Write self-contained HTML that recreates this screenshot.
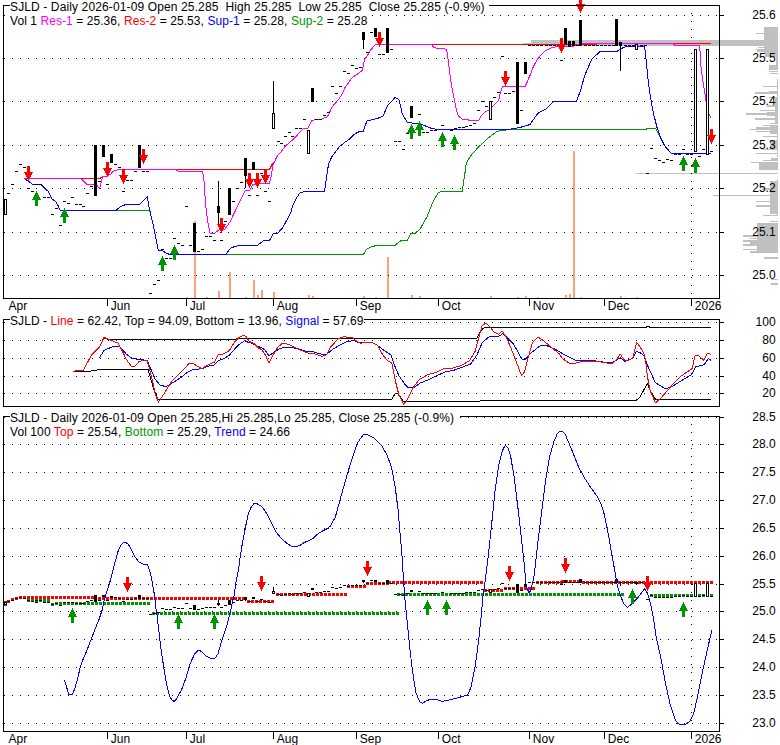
<!DOCTYPE html>
<html><head><meta charset="utf-8"><title>SJLD</title>
<style>html,body{margin:0;padding:0;background:#fff;width:780px;height:745px;overflow:hidden}svg{display:block}text{white-space:pre}</style>
</head><body><svg width="780" height="745" viewBox="0 0 780 745" font-family="Liberation Sans, sans-serif" shape-rendering="crispEdges"><path d="M764 27h14v13h-14zM756 33h22v1h-22zM720 40h58v6h-58zM764 46h14v7h-14zM758 47h20v1h-20zM756 49h22v1h-22zM757 50h21v2h-21zM765 53h13v4h-13zM776 57h2v5h-2zM776 62h2v3h-2zM769 65h9v5h-9zM769 71h9v1h-9zM770 73h8v1h-8zM777 79h1v21h-1zM763 86h15v1h-15zM769 91h9v1h-9zM755 92h23v2h-23zM769 97h9v1h-9zM775 98h3v26h-3zM767 105h11v2h-11zM760 110h18v1h-18zM767 112h11v4h-11zM746 113h32v2h-32zM755 118h23v2h-23zM770 123h8v1h-8zM770 125h8v9h-8zM763 125h15v1h-15zM756 127h22v2h-22zM750 129h28v1h-28zM756 131h22v1h-22zM777 133h1v24h-1zM763 136h15v1h-15zM770 140h8v9h-8zM762 149h16v1h-16zM756 153h22v1h-22zM771 158h7v2h-7zM763 160h15v1h-15zM751 162h27v1h-27zM759 163h19v7h-19zM720 173h58v1h-58zM777 179h1v37h-1zM770 181h8v33h-8zM762 188h16v2h-16zM720 195h58v1h-58zM756 201h22v1h-22zM756 205h22v2h-22zM763 215h15v1h-15zM770 221h8v1h-8zM757 223h21v29h-21zM743 235h35v2h-35zM750 238h28v1h-28zM743 240h35v2h-35zM750 242h28v2h-28zM743 244h35v2h-35zM743 249h35v1h-35zM750 251h28v2h-28zM764 257h14v2h-14zM771 279h7v1h-7zM771 283h7v2h-7z" fill="#c0c0c0"/>
<path d="M531 40h189v6h-189zM523 43h8v2h-8zM636 173h84v1h-84zM713 195h7v1h-7z" fill="#c0c0c0"/>
<path d="M573 151h2v147h-2zM387 257h2v41h-2zM194 221h2v77h-2zM229 272h2v26h-2zM218 291h2v7h-2zM253 280h2v18h-2zM257 295h2v3h-2zM261 290h2v8h-2zM273 292h2v6h-2zM308 295h2v3h-2zM312 296h2v2h-2zM363 296h2v2h-2zM375 297h2v1h-2zM411 295h2v3h-2zM419 296h2v2h-2zM186 297h2v1h-2zM206 297h2v1h-2zM245 297h2v1h-2zM490 296h2v2h-2zM517 297h2v1h-2zM525 296h2v2h-2zM537 297h2v1h-2zM565 295h2v3h-2zM569 294h2v4h-2zM580 297h2v1h-2zM620 296h2v2h-2zM636 297h2v1h-2z" fill="#ffa07a"/>
<path d="M4 15h1v1h-1zM372 15h1v1h-1zM380 15h1v1h-1zM388 15h1v1h-1zM396 15h1v1h-1zM404 15h1v1h-1zM412 15h1v1h-1zM420 15h1v1h-1zM428 15h1v1h-1zM436 15h1v1h-1zM444 15h1v1h-1zM452 15h1v1h-1zM460 15h1v1h-1zM468 15h1v1h-1zM476 15h1v1h-1zM484 15h1v1h-1zM492 15h1v1h-1zM500 15h1v1h-1zM508 15h1v1h-1zM516 15h1v1h-1zM524 15h1v1h-1zM532 15h1v1h-1zM540 15h1v1h-1zM548 15h1v1h-1zM556 15h1v1h-1zM564 15h1v1h-1zM572 15h1v1h-1zM580 15h1v1h-1zM588 15h1v1h-1zM596 15h1v1h-1zM604 15h1v1h-1zM612 15h1v1h-1zM620 15h1v1h-1zM628 15h1v1h-1zM636 15h1v1h-1zM644 15h1v1h-1zM652 15h1v1h-1zM660 15h1v1h-1zM668 15h1v1h-1zM676 15h1v1h-1zM684 15h1v1h-1zM692 15h1v1h-1zM700 15h1v1h-1zM708 15h1v1h-1zM716 15h1v1h-1z" fill="#000"/>
<path d="M4 58h1v1h-1zM12 58h1v1h-1zM20 58h1v1h-1zM28 58h1v1h-1zM36 58h1v1h-1zM44 58h1v1h-1zM52 58h1v1h-1zM60 58h1v1h-1zM68 58h1v1h-1zM76 58h1v1h-1zM84 58h1v1h-1zM92 58h1v1h-1zM100 58h1v1h-1zM108 58h1v1h-1zM116 58h1v1h-1zM124 58h1v1h-1zM132 58h1v1h-1zM140 58h1v1h-1zM148 58h1v1h-1zM156 58h1v1h-1zM164 58h1v1h-1zM172 58h1v1h-1zM180 58h1v1h-1zM188 58h1v1h-1zM196 58h1v1h-1zM204 58h1v1h-1zM212 58h1v1h-1zM220 58h1v1h-1zM228 58h1v1h-1zM236 58h1v1h-1zM244 58h1v1h-1zM252 58h1v1h-1zM260 58h1v1h-1zM268 58h1v1h-1zM276 58h1v1h-1zM284 58h1v1h-1zM292 58h1v1h-1zM300 58h1v1h-1zM308 58h1v1h-1zM316 58h1v1h-1zM324 58h1v1h-1zM332 58h1v1h-1zM340 58h1v1h-1zM348 58h1v1h-1zM356 58h1v1h-1zM364 58h1v1h-1zM372 58h1v1h-1zM380 58h1v1h-1zM388 58h1v1h-1zM396 58h1v1h-1zM404 58h1v1h-1zM412 58h1v1h-1zM420 58h1v1h-1zM428 58h1v1h-1zM436 58h1v1h-1zM444 58h1v1h-1zM452 58h1v1h-1zM460 58h1v1h-1zM468 58h1v1h-1zM476 58h1v1h-1zM484 58h1v1h-1zM492 58h1v1h-1zM500 58h1v1h-1zM508 58h1v1h-1zM516 58h1v1h-1zM524 58h1v1h-1zM532 58h1v1h-1zM540 58h1v1h-1zM548 58h1v1h-1zM556 58h1v1h-1zM564 58h1v1h-1zM572 58h1v1h-1zM580 58h1v1h-1zM588 58h1v1h-1zM596 58h1v1h-1zM604 58h1v1h-1zM612 58h1v1h-1zM620 58h1v1h-1zM628 58h1v1h-1zM636 58h1v1h-1zM644 58h1v1h-1zM652 58h1v1h-1zM660 58h1v1h-1zM668 58h1v1h-1zM676 58h1v1h-1zM684 58h1v1h-1zM692 58h1v1h-1zM700 58h1v1h-1zM708 58h1v1h-1zM716 58h1v1h-1z" fill="#000"/>
<path d="M4 101h1v1h-1zM12 101h1v1h-1zM20 101h1v1h-1zM28 101h1v1h-1zM36 101h1v1h-1zM44 101h1v1h-1zM52 101h1v1h-1zM60 101h1v1h-1zM68 101h1v1h-1zM76 101h1v1h-1zM84 101h1v1h-1zM92 101h1v1h-1zM100 101h1v1h-1zM108 101h1v1h-1zM116 101h1v1h-1zM124 101h1v1h-1zM132 101h1v1h-1zM140 101h1v1h-1zM148 101h1v1h-1zM156 101h1v1h-1zM164 101h1v1h-1zM172 101h1v1h-1zM180 101h1v1h-1zM188 101h1v1h-1zM196 101h1v1h-1zM204 101h1v1h-1zM212 101h1v1h-1zM220 101h1v1h-1zM228 101h1v1h-1zM236 101h1v1h-1zM244 101h1v1h-1zM252 101h1v1h-1zM260 101h1v1h-1zM268 101h1v1h-1zM276 101h1v1h-1zM284 101h1v1h-1zM292 101h1v1h-1zM300 101h1v1h-1zM308 101h1v1h-1zM316 101h1v1h-1zM324 101h1v1h-1zM332 101h1v1h-1zM340 101h1v1h-1zM348 101h1v1h-1zM356 101h1v1h-1zM364 101h1v1h-1zM372 101h1v1h-1zM380 101h1v1h-1zM388 101h1v1h-1zM396 101h1v1h-1zM404 101h1v1h-1zM412 101h1v1h-1zM420 101h1v1h-1zM428 101h1v1h-1zM436 101h1v1h-1zM444 101h1v1h-1zM452 101h1v1h-1zM460 101h1v1h-1zM468 101h1v1h-1zM476 101h1v1h-1zM484 101h1v1h-1zM492 101h1v1h-1zM500 101h1v1h-1zM508 101h1v1h-1zM516 101h1v1h-1zM524 101h1v1h-1zM532 101h1v1h-1zM540 101h1v1h-1zM548 101h1v1h-1zM556 101h1v1h-1zM564 101h1v1h-1zM572 101h1v1h-1zM580 101h1v1h-1zM588 101h1v1h-1zM596 101h1v1h-1zM604 101h1v1h-1zM612 101h1v1h-1zM620 101h1v1h-1zM628 101h1v1h-1zM636 101h1v1h-1zM644 101h1v1h-1zM652 101h1v1h-1zM660 101h1v1h-1zM668 101h1v1h-1zM676 101h1v1h-1zM684 101h1v1h-1zM692 101h1v1h-1zM700 101h1v1h-1zM708 101h1v1h-1zM716 101h1v1h-1z" fill="#000"/>
<path d="M4 145h1v1h-1zM12 145h1v1h-1zM20 145h1v1h-1zM28 145h1v1h-1zM36 145h1v1h-1zM44 145h1v1h-1zM52 145h1v1h-1zM60 145h1v1h-1zM68 145h1v1h-1zM76 145h1v1h-1zM84 145h1v1h-1zM92 145h1v1h-1zM100 145h1v1h-1zM108 145h1v1h-1zM116 145h1v1h-1zM124 145h1v1h-1zM132 145h1v1h-1zM140 145h1v1h-1zM148 145h1v1h-1zM156 145h1v1h-1zM164 145h1v1h-1zM172 145h1v1h-1zM180 145h1v1h-1zM188 145h1v1h-1zM196 145h1v1h-1zM204 145h1v1h-1zM212 145h1v1h-1zM220 145h1v1h-1zM228 145h1v1h-1zM236 145h1v1h-1zM244 145h1v1h-1zM252 145h1v1h-1zM260 145h1v1h-1zM268 145h1v1h-1zM276 145h1v1h-1zM284 145h1v1h-1zM292 145h1v1h-1zM300 145h1v1h-1zM308 145h1v1h-1zM316 145h1v1h-1zM324 145h1v1h-1zM332 145h1v1h-1zM340 145h1v1h-1zM348 145h1v1h-1zM356 145h1v1h-1zM364 145h1v1h-1zM372 145h1v1h-1zM380 145h1v1h-1zM388 145h1v1h-1zM396 145h1v1h-1zM404 145h1v1h-1zM412 145h1v1h-1zM420 145h1v1h-1zM428 145h1v1h-1zM436 145h1v1h-1zM444 145h1v1h-1zM452 145h1v1h-1zM460 145h1v1h-1zM468 145h1v1h-1zM476 145h1v1h-1zM484 145h1v1h-1zM492 145h1v1h-1zM500 145h1v1h-1zM508 145h1v1h-1zM516 145h1v1h-1zM524 145h1v1h-1zM532 145h1v1h-1zM540 145h1v1h-1zM548 145h1v1h-1zM556 145h1v1h-1zM564 145h1v1h-1zM572 145h1v1h-1zM580 145h1v1h-1zM588 145h1v1h-1zM596 145h1v1h-1zM604 145h1v1h-1zM612 145h1v1h-1zM620 145h1v1h-1zM628 145h1v1h-1zM636 145h1v1h-1zM644 145h1v1h-1zM652 145h1v1h-1zM660 145h1v1h-1zM668 145h1v1h-1zM676 145h1v1h-1zM684 145h1v1h-1zM692 145h1v1h-1zM700 145h1v1h-1zM708 145h1v1h-1zM716 145h1v1h-1z" fill="#000"/>
<path d="M4 188h1v1h-1zM12 188h1v1h-1zM20 188h1v1h-1zM28 188h1v1h-1zM36 188h1v1h-1zM44 188h1v1h-1zM52 188h1v1h-1zM60 188h1v1h-1zM68 188h1v1h-1zM76 188h1v1h-1zM84 188h1v1h-1zM92 188h1v1h-1zM100 188h1v1h-1zM108 188h1v1h-1zM116 188h1v1h-1zM124 188h1v1h-1zM132 188h1v1h-1zM140 188h1v1h-1zM148 188h1v1h-1zM156 188h1v1h-1zM164 188h1v1h-1zM172 188h1v1h-1zM180 188h1v1h-1zM188 188h1v1h-1zM196 188h1v1h-1zM204 188h1v1h-1zM212 188h1v1h-1zM220 188h1v1h-1zM228 188h1v1h-1zM236 188h1v1h-1zM244 188h1v1h-1zM252 188h1v1h-1zM260 188h1v1h-1zM268 188h1v1h-1zM276 188h1v1h-1zM284 188h1v1h-1zM292 188h1v1h-1zM300 188h1v1h-1zM308 188h1v1h-1zM316 188h1v1h-1zM324 188h1v1h-1zM332 188h1v1h-1zM340 188h1v1h-1zM348 188h1v1h-1zM356 188h1v1h-1zM364 188h1v1h-1zM372 188h1v1h-1zM380 188h1v1h-1zM388 188h1v1h-1zM396 188h1v1h-1zM404 188h1v1h-1zM412 188h1v1h-1zM420 188h1v1h-1zM428 188h1v1h-1zM436 188h1v1h-1zM444 188h1v1h-1zM452 188h1v1h-1zM460 188h1v1h-1zM468 188h1v1h-1zM476 188h1v1h-1zM484 188h1v1h-1zM492 188h1v1h-1zM500 188h1v1h-1zM508 188h1v1h-1zM516 188h1v1h-1zM524 188h1v1h-1zM532 188h1v1h-1zM540 188h1v1h-1zM548 188h1v1h-1zM556 188h1v1h-1zM564 188h1v1h-1zM572 188h1v1h-1zM580 188h1v1h-1zM588 188h1v1h-1zM596 188h1v1h-1zM604 188h1v1h-1zM612 188h1v1h-1zM620 188h1v1h-1zM628 188h1v1h-1zM636 188h1v1h-1zM644 188h1v1h-1zM652 188h1v1h-1zM660 188h1v1h-1zM668 188h1v1h-1zM676 188h1v1h-1zM684 188h1v1h-1zM692 188h1v1h-1zM700 188h1v1h-1zM708 188h1v1h-1zM716 188h1v1h-1z" fill="#000"/>
<path d="M4 232h1v1h-1zM12 232h1v1h-1zM20 232h1v1h-1zM28 232h1v1h-1zM36 232h1v1h-1zM44 232h1v1h-1zM52 232h1v1h-1zM60 232h1v1h-1zM68 232h1v1h-1zM76 232h1v1h-1zM84 232h1v1h-1zM92 232h1v1h-1zM100 232h1v1h-1zM108 232h1v1h-1zM116 232h1v1h-1zM124 232h1v1h-1zM132 232h1v1h-1zM140 232h1v1h-1zM148 232h1v1h-1zM156 232h1v1h-1zM164 232h1v1h-1zM172 232h1v1h-1zM180 232h1v1h-1zM188 232h1v1h-1zM196 232h1v1h-1zM204 232h1v1h-1zM212 232h1v1h-1zM220 232h1v1h-1zM228 232h1v1h-1zM236 232h1v1h-1zM244 232h1v1h-1zM252 232h1v1h-1zM260 232h1v1h-1zM268 232h1v1h-1zM276 232h1v1h-1zM284 232h1v1h-1zM292 232h1v1h-1zM300 232h1v1h-1zM308 232h1v1h-1zM316 232h1v1h-1zM324 232h1v1h-1zM332 232h1v1h-1zM340 232h1v1h-1zM348 232h1v1h-1zM356 232h1v1h-1zM364 232h1v1h-1zM372 232h1v1h-1zM380 232h1v1h-1zM388 232h1v1h-1zM396 232h1v1h-1zM404 232h1v1h-1zM412 232h1v1h-1zM420 232h1v1h-1zM428 232h1v1h-1zM436 232h1v1h-1zM444 232h1v1h-1zM452 232h1v1h-1zM460 232h1v1h-1zM468 232h1v1h-1zM476 232h1v1h-1zM484 232h1v1h-1zM492 232h1v1h-1zM500 232h1v1h-1zM508 232h1v1h-1zM516 232h1v1h-1zM524 232h1v1h-1zM532 232h1v1h-1zM540 232h1v1h-1zM548 232h1v1h-1zM556 232h1v1h-1zM564 232h1v1h-1zM572 232h1v1h-1zM580 232h1v1h-1zM588 232h1v1h-1zM596 232h1v1h-1zM604 232h1v1h-1zM612 232h1v1h-1zM620 232h1v1h-1zM628 232h1v1h-1zM636 232h1v1h-1zM644 232h1v1h-1zM652 232h1v1h-1zM660 232h1v1h-1zM668 232h1v1h-1zM676 232h1v1h-1zM684 232h1v1h-1zM692 232h1v1h-1zM700 232h1v1h-1zM708 232h1v1h-1zM716 232h1v1h-1z" fill="#000"/>
<path d="M4 275h1v1h-1zM12 275h1v1h-1zM20 275h1v1h-1zM28 275h1v1h-1zM36 275h1v1h-1zM44 275h1v1h-1zM52 275h1v1h-1zM60 275h1v1h-1zM68 275h1v1h-1zM76 275h1v1h-1zM84 275h1v1h-1zM92 275h1v1h-1zM100 275h1v1h-1zM108 275h1v1h-1zM116 275h1v1h-1zM124 275h1v1h-1zM132 275h1v1h-1zM140 275h1v1h-1zM148 275h1v1h-1zM156 275h1v1h-1zM164 275h1v1h-1zM172 275h1v1h-1zM180 275h1v1h-1zM188 275h1v1h-1zM196 275h1v1h-1zM204 275h1v1h-1zM212 275h1v1h-1zM220 275h1v1h-1zM228 275h1v1h-1zM236 275h1v1h-1zM244 275h1v1h-1zM252 275h1v1h-1zM260 275h1v1h-1zM268 275h1v1h-1zM276 275h1v1h-1zM284 275h1v1h-1zM292 275h1v1h-1zM300 275h1v1h-1zM308 275h1v1h-1zM316 275h1v1h-1zM324 275h1v1h-1zM332 275h1v1h-1zM340 275h1v1h-1zM348 275h1v1h-1zM356 275h1v1h-1zM364 275h1v1h-1zM372 275h1v1h-1zM380 275h1v1h-1zM388 275h1v1h-1zM396 275h1v1h-1zM404 275h1v1h-1zM412 275h1v1h-1zM420 275h1v1h-1zM428 275h1v1h-1zM436 275h1v1h-1zM444 275h1v1h-1zM452 275h1v1h-1zM460 275h1v1h-1zM468 275h1v1h-1zM476 275h1v1h-1zM484 275h1v1h-1zM492 275h1v1h-1zM500 275h1v1h-1zM508 275h1v1h-1zM516 275h1v1h-1zM524 275h1v1h-1zM532 275h1v1h-1zM540 275h1v1h-1zM548 275h1v1h-1zM556 275h1v1h-1zM564 275h1v1h-1zM572 275h1v1h-1zM580 275h1v1h-1zM588 275h1v1h-1zM596 275h1v1h-1zM604 275h1v1h-1zM612 275h1v1h-1zM620 275h1v1h-1zM628 275h1v1h-1zM636 275h1v1h-1zM644 275h1v1h-1zM652 275h1v1h-1zM660 275h1v1h-1zM668 275h1v1h-1zM676 275h1v1h-1zM684 275h1v1h-1zM692 275h1v1h-1zM700 275h1v1h-1zM708 275h1v1h-1zM716 275h1v1h-1z" fill="#000"/>
<path d="M691 13h1v1h-1zM691 21h1v1h-1zM691 29h1v1h-1zM691 37h1v1h-1zM691 45h1v1h-1zM691 53h1v1h-1zM691 61h1v1h-1zM691 69h1v1h-1zM691 77h1v1h-1zM691 85h1v1h-1zM691 93h1v1h-1zM691 101h1v1h-1zM691 109h1v1h-1zM691 117h1v1h-1zM691 125h1v1h-1zM691 133h1v1h-1zM691 141h1v1h-1zM691 149h1v1h-1zM691 157h1v1h-1zM691 165h1v1h-1zM691 173h1v1h-1zM691 181h1v1h-1zM691 189h1v1h-1zM691 197h1v1h-1zM691 205h1v1h-1zM691 213h1v1h-1zM691 221h1v1h-1zM691 229h1v1h-1zM691 237h1v1h-1zM691 245h1v1h-1zM691 253h1v1h-1zM691 261h1v1h-1zM691 269h1v1h-1zM691 277h1v1h-1zM691 285h1v1h-1zM691 293h1v1h-1z" fill="#000"/>
<rect x="3" y="5" width="1" height="294" fill="#000"/>
<rect x="719" y="5" width="1" height="294" fill="#000"/>
<rect x="3" y="298" width="717" height="1" fill="#000"/>
<rect x="3" y="5" width="7" height="1" fill="#000"/>
<rect x="489" y="5" width="231" height="1" fill="#000"/>
<rect x="719" y="15" width="5" height="1" fill="#000"/>
<rect x="719" y="58" width="5" height="1" fill="#000"/>
<rect x="719" y="101" width="5" height="1" fill="#000"/>
<rect x="719" y="145" width="5" height="1" fill="#000"/>
<rect x="719" y="188" width="5" height="1" fill="#000"/>
<rect x="719" y="232" width="5" height="1" fill="#000"/>
<rect x="719" y="275" width="5" height="1" fill="#000"/>
<polyline points="115.9,210.4 148.0,210.4 149.9,211.7 153.1,224.5 155.6,237.3 158.2,250.1 161.4,250.1 166.5,253.3 169.1,254.2 230.0,254.3 363.3,254.5 366.7,249.2 370.0,247.2 373.3,246.3 377.5,245.3 395.0,245.3 400.8,240.8 407.5,240.3 410.8,233.7 415.0,233.3 420.0,229.2 426.9,216.9 433.1,201.5 438.5,192.3 443.8,191.5 462.3,191.1 464.6,175.4 466.2,164.0 468.0,160.0 469.6,157.7 472.0,154.0 475.5,150.3 478.5,147.0 481.4,144.4 484.6,141.5 488.5,137.8 496.2,132.0 498.7,131.0 506.4,129.9 646.2,129.3 647.7,128.1 655.4,128.1 658.5,133.5 661.0,138.5 664.9,146.2 671.3,153.2 711.0,153.2" fill="none" stroke="#009400" stroke-width="1" stroke-linejoin="round"/>
<polyline points="24.4,178.4 25.4,179.3 28.6,181.3 31.0,183.0 32.6,184.4 41.0,184.4 43.5,187.0 45.9,189.4 48.3,191.4 49.9,195.0 51.8,198.8 55.6,201.4 57.6,204.6 60.2,210.4 115.9,210.4 119.7,207.2 122.5,205.7 126.2,204.4 139.6,204.4 147.3,196.5 149.2,207.8 153.1,224.5 155.6,237.3 158.2,250.1 161.4,250.1 166.5,253.3 169.1,254.2 226.2,254.3 230.3,248.3 235.4,246.3 239.5,245.3 257.4,245.3 263.1,241.0 269.7,240.1 273.3,233.5 277.4,233.5 282.6,227.8 287.7,218.6 290.8,212.4 292.8,205.3 296.4,198.0 300.3,192.4 306.0,191.5 324.6,191.3 325.3,186.4 326.5,178.0 327.8,168.5 329.1,162.7 331.7,156.9 339.4,146.7 345.8,141.5 347.0,141.2 354.7,134.0 359.9,131.3 360.0,131.3 363.2,131.3 367.0,120.8 372.8,119.7 378.0,118.2 383.1,115.9 387.6,105.6 395.3,97.3 399.1,99.9 402.3,114.0 407.4,122.3 416.4,123.6 422.8,124.9 431.8,128.5 436.9,129.4 460.0,129.4 506.4,129.9 519.2,127.6 526.9,125.6 530.1,124.4 537.2,114.1 540.0,111.9 546.2,108.8 553.1,101.6 576.5,101.2 580.8,89.6 584.6,75.8 589.2,65.0 592.3,58.8 600.0,51.5 616.9,51.5 620.0,49.3 623.8,47.3 627.7,46.5 644.6,46.5 646.2,60.4 648.5,83.5 650.8,98.8 653.3,112.8 657.2,128.2 661.0,138.5 664.9,146.2 671.3,153.2 711.0,153.2" fill="none" stroke="#0000ff" stroke-width="1" stroke-linejoin="round"/>
<polyline points="24.2,178.5 100.0,178.5 102.6,176.5 107.2,176.3 109.3,174.5 110.5,174.3 113.3,171.3 116.1,170.3 117.6,169.5 269.6,169.4 272.0,164.4 274.7,161.4" fill="none" stroke="#ff0000" stroke-width="1" stroke-linejoin="round"/>
<polyline points="431.7,44.5 524.0,44.5 673.0,43.5 711.0,43.5" fill="none" stroke="#ff0000" stroke-width="1" stroke-linejoin="round"/>
<polyline points="24.2,178.5 80.0,178.5 82.0,179.7 87.2,184.5 96.0,184.5 99.6,188.5 101.5,181.4 102.6,176.5 107.2,176.3 109.3,174.5 110.5,174.3 113.3,171.3 116.1,170.3 117.6,169.5 175.9,169.5 178.5,171.4 202.4,171.3 203.7,176.5 205.6,205.0 207.8,222.0 210.1,233.5 214.0,233.5 219.7,229.6 224.9,229.0 230.0,221.9 238.1,205.0 245.1,190.6 249.8,190.6 250.8,188.6 253.2,184.2 269.3,183.5 271.3,175.8 272.7,165.7 274.7,161.4 277.4,155.6 280.0,153.0 285.5,146.0 290.6,141.5 292.6,139.9 297.0,135.4 303.5,128.3 308.0,128.3 311.8,120.6 314.4,120.0 321.4,119.1 327.2,116.8 329.1,113.6 332.3,106.5 338.1,100.1 341.9,94.4 345.1,87.3 352.2,77.7 354.7,75.8 360.5,71.9 362.4,70.0 364.4,60.0 366.9,56.3 370.8,49.9 375.3,44.5 431.7,44.5 433.8,47.6 437.7,48.2 444.7,48.5 446.7,50.1 448.0,58.5 449.9,73.8 451.5,85.0 453.2,94.2 456.4,109.6 458.3,116.0 462.2,119.2 469.2,120.1 478.8,120.1 481.4,115.4 484.6,112.4 488.5,110.3 492.3,106.4 498.7,100.6 500.6,91.7 502.6,86.8 525.0,86.8 526.9,82.7 529.5,76.3 530.3,75.0 532.8,68.0 536.7,60.3 541.2,54.6 545.4,50.8 550.8,48.0 555.4,46.9 560.0,46.5 570.8,46.5 577.0,45.4 578.8,44.0 673.0,43.5 675.0,45.5 699.5,45.5 700.0,51.0 700.5,62.0 701.5,72.0 705.9,100.0 708.5,112.8 711.0,118.0" fill="none" stroke="#ff00ff" stroke-width="1" stroke-linejoin="round"/>
<path d="M7 193h3v1h-3zM11 184h3v1h-3zM15 171h3v1h-3zM19 164h3v1h-3zM23 167h3v1h-3zM27 188h3v1h-3zM31 191h3v1h-3zM35 197h3v1h-3zM43 197h3v1h-3zM47 197h3v1h-3zM51 214h3v1h-3zM55 208h3v1h-3zM59 225h3v1h-3zM63 201h3v1h-3zM67 203h3v1h-3zM71 197h3v1h-3zM75 204h3v1h-3zM79 204h3v1h-3zM82 206h3v1h-3zM86 193h3v1h-3zM90 186h3v1h-3zM98 181h3v1h-3zM106 184h3v1h-3zM114 164h3v1h-3zM118 167h3v1h-3zM122 191h3v1h-3zM126 180h3v1h-3zM130 180h3v1h-3zM134 171h3v1h-3zM142 171h3v1h-3zM146 171h3v1h-3zM185 206h3v1h-3zM173 238h3v1h-3zM177 243h3v1h-3zM181 245h3v1h-3zM189 245h3v1h-3zM197 251h3v1h-3zM201 249h3v1h-3zM161 249h3v1h-3zM165 258h3v1h-3zM169 258h3v1h-3zM205 236h3v1h-3zM209 236h3v1h-3zM213 240h3v1h-3zM220 240h3v1h-3zM224 221h3v1h-3zM277 141h3v1h-3zM240 182h3v1h-3zM236 188h3v1h-3zM260 173h3v1h-3zM264 191h3v1h-3zM248 195h3v1h-3zM256 195h3v1h-3zM268 201h3v1h-3zM232 201h3v1h-3zM343 71h3v1h-3zM347 73h3v1h-3zM331 86h3v1h-3zM339 86h3v1h-3zM335 93h3v1h-3zM327 112h3v1h-3zM323 115h3v1h-3zM303 119h3v1h-3zM315 119h3v1h-3zM319 119h3v1h-3zM295 128h3v1h-3zM299 128h3v1h-3zM288 132h3v1h-3zM284 136h3v1h-3zM291 136h3v1h-3zM280 143h3v1h-3zM220 240h3v1h-3zM370 32h3v1h-3zM366 52h3v1h-3zM378 54h3v1h-3zM382 54h3v1h-3zM390 49h3v1h-3zM351 65h3v1h-3zM355 68h3v1h-3zM359 67h3v1h-3zM501 56h3v1h-3zM497 92h3v1h-3zM504 93h3v1h-3zM508 93h3v1h-3zM512 91h3v1h-3zM418 114h3v1h-3zM441 125h3v1h-3zM406 133h3v1h-3zM422 132h3v1h-3zM426 132h3v1h-3zM430 130h3v1h-3zM434 130h3v1h-3zM394 141h3v1h-3zM398 141h3v1h-3zM402 149h3v1h-3zM450 130h3v1h-3zM454 128h3v1h-3zM458 127h3v1h-3zM462 127h3v1h-3zM465 126h3v1h-3zM469 125h3v1h-3zM473 123h3v1h-3zM477 110h3v1h-3zM481 101h3v1h-3zM485 106h3v1h-3zM493 97h3v1h-3zM520 110h3v1h-3zM560 60h3v1h-3zM528 45h3v1h-3zM532 45h3v1h-3zM536 45h3v1h-3zM540 45h3v1h-3zM545 45h3v1h-3zM549 45h3v1h-3zM553 45h3v1h-3zM557 45h3v1h-3zM561 45h3v1h-3zM576 45h3v1h-3zM584 45h3v1h-3zM588 45h3v1h-3zM592 45h3v1h-3zM596 45h3v1h-3zM600 45h3v1h-3zM604 45h3v1h-3zM608 45h3v1h-3zM612 45h3v1h-3zM624 45h3v1h-3zM628 45h3v1h-3zM632 45h3v1h-3zM640 45h3v1h-3zM644 45h3v1h-3zM650 148h3v1h-3zM682 149h3v1h-3zM702 149h3v1h-3zM710 151h3v1h-3zM674 154h3v1h-3zM678 154h3v1h-3zM686 154h3v1h-3zM690 154h3v1h-3zM698 156h3v1h-3zM654 158h3v1h-3zM658 160h3v1h-3zM662 162h3v1h-3zM666 159h3v1h-3zM670 160h3v1h-3zM646 173h3v1h-3zM149 293h3v1h-3zM153 284h3v1h-3zM157 280h3v1h-3zM35 184h3v1h-3zM39 184h3v1h-3z" fill="#000"/>
<path d="M94 145h3v51h-3zM102 145h3v12h-3zM110 154h3v9h-3zM138 145h3v23h-3zM193 223h3v29h-3zM244 158h3v18h-3zM245 176h1v12h-1zM252 162h3v8h-3zM228 188h3v27h-3zM311 88h3v14h-3zM362 32h3v8h-3zM363 40h1v9h-1zM374 28h3v9h-3zM386 28h3v25h-3zM524 62h3v12h-3zM410 106h3v12h-3zM564 28h3v17h-3zM568 41h3v6h-3zM572 41h3v5h-3zM579 20h3v26h-3zM615 19h3v27h-3zM619 42h3v4h-3zM620 46h1v25h-1zM516 62h3v62h-3zM217 206h3v7h-3zM218 181h1v25h-1zM218 213h1v13h-1z" fill="#000"/>
<rect x="4" y="199" width="3" height="16" fill="#fff"/>
<path d="M4 199h3v1h-3zM4 214h3v1h-3zM4 199h1v16h-1zM6 199h1v16h-1z" fill="#000"/>
<rect x="272" y="113" width="3" height="16" fill="#fff"/>
<path d="M272 113h3v1h-3zM272 128h3v1h-3zM272 113h1v16h-1zM274 113h1v16h-1zM273 81h1v32h-1z" fill="#000"/>
<rect x="307" y="130" width="3" height="24" fill="#fff"/>
<path d="M307 130h3v1h-3zM307 153h3v1h-3zM307 130h1v24h-1zM309 130h1v24h-1z" fill="#000"/>
<rect x="489" y="101" width="3" height="19" fill="#fff"/>
<path d="M489 101h3v1h-3zM489 119h3v1h-3zM489 101h1v19h-1zM491 101h1v19h-1z" fill="#000"/>
<rect x="635" y="44" width="3" height="6" fill="#fff"/>
<path d="M635 44h3v1h-3zM635 49h3v1h-3zM635 44h1v6h-1zM637 44h1v6h-1z" fill="#000"/>
<rect x="694" y="49" width="3" height="103" fill="#fff"/>
<path d="M694 49h3v1h-3zM694 151h3v1h-3zM694 49h1v103h-1zM696 49h1v103h-1z" fill="#000"/>
<rect x="706" y="49" width="3" height="106" fill="#fff"/>
<path d="M706 49h3v1h-3zM706 154h3v1h-3zM706 49h1v106h-1zM708 49h1v106h-1z" fill="#000"/>
<path d="M27 166h3v6h-3zM24 172h9v1h-9zM25 173h7v2h-7zM26 175h5v2h-5zM27 177h3v2h-3zM28 179h1v2h-1z" fill="#ff0000"/>
<path d="M36 191h1v2h-1zM35 193h3v2h-3zM34 195h5v2h-5zM33 197h7v2h-7zM32 199h9v1h-9zM35 200h3v6h-3z" fill="#009400"/>
<path d="M64 208h1v2h-1zM63 210h3v2h-3zM62 212h5v2h-5zM61 214h7v2h-7zM60 216h9v1h-9zM63 217h3v6h-3z" fill="#009400"/>
<path d="M106 162h3v6h-3zM103 168h9v1h-9zM104 169h7v2h-7zM105 171h5v2h-5zM106 173h3v2h-3zM107 175h1v2h-1z" fill="#ff0000"/>
<path d="M122 169h3v6h-3zM119 175h9v1h-9zM120 176h7v2h-7zM121 178h5v2h-5zM122 180h3v2h-3zM123 182h1v2h-1z" fill="#ff0000"/>
<path d="M142 149h3v6h-3zM139 155h9v1h-9zM140 156h7v2h-7zM141 158h5v2h-5zM142 160h3v2h-3zM143 162h1v2h-1z" fill="#ff0000"/>
<path d="M220 218h3v6h-3zM217 224h9v1h-9zM218 225h7v2h-7zM219 227h5v2h-5zM220 229h3v2h-3zM221 231h1v2h-1z" fill="#ff0000"/>
<path d="M174 245h1v2h-1zM173 247h3v2h-3zM172 249h5v2h-5zM171 251h7v2h-7zM170 253h9v1h-9zM173 254h3v6h-3z" fill="#009400"/>
<path d="M162 256h1v2h-1zM161 258h3v2h-3zM160 260h5v2h-5zM159 262h7v2h-7zM158 264h9v1h-9zM161 265h3v6h-3z" fill="#009400"/>
<path d="M248 173h3v6h-3zM245 179h9v1h-9zM246 180h7v2h-7zM247 182h5v2h-5zM248 184h3v2h-3zM249 186h1v2h-1z" fill="#ff0000"/>
<path d="M256 173h3v6h-3zM253 179h9v1h-9zM254 180h7v2h-7zM255 182h5v2h-5zM256 184h3v2h-3zM257 186h1v2h-1z" fill="#ff0000"/>
<path d="M264 169h3v6h-3zM261 175h9v1h-9zM262 176h7v2h-7zM263 178h5v2h-5zM264 180h3v2h-3zM265 182h1v2h-1z" fill="#ff0000"/>
<path d="M378 32h3v6h-3zM375 38h9v1h-9zM376 39h7v2h-7zM377 41h5v2h-5zM378 43h3v2h-3zM379 45h1v2h-1z" fill="#ff0000"/>
<path d="M504 71h3v6h-3zM501 77h9v1h-9zM502 78h7v2h-7zM503 80h5v2h-5zM504 82h3v2h-3zM505 84h1v2h-1z" fill="#ff0000"/>
<path d="M411 124h1v2h-1zM410 126h3v2h-3zM409 128h5v2h-5zM408 130h7v2h-7zM407 132h9v1h-9zM410 133h3v6h-3z" fill="#009400"/>
<path d="M419 121h1v2h-1zM418 123h3v2h-3zM417 125h5v2h-5zM416 127h7v2h-7zM415 129h9v1h-9zM418 130h3v6h-3z" fill="#009400"/>
<path d="M442 132h1v2h-1zM441 134h3v2h-3zM440 136h5v2h-5zM439 138h7v2h-7zM438 140h9v1h-9zM441 141h3v6h-3z" fill="#009400"/>
<path d="M454 135h1v2h-1zM453 137h3v2h-3zM452 139h5v2h-5zM451 141h7v2h-7zM450 143h9v1h-9zM453 144h3v6h-3z" fill="#009400"/>
<path d="M579 -2h3v6h-3zM576 4h9v1h-9zM577 5h7v2h-7zM578 7h5v2h-5zM579 9h3v2h-3zM580 11h1v2h-1z" fill="#ff0000"/>
<path d="M560 38h3v6h-3zM557 44h9v1h-9zM558 45h7v2h-7zM559 47h5v2h-5zM560 49h3v2h-3zM561 51h1v2h-1z" fill="#ff0000"/>
<path d="M710 129h3v6h-3zM707 135h9v1h-9zM708 136h7v2h-7zM709 138h5v2h-5zM710 140h3v2h-3zM711 142h1v2h-1z" fill="#ff0000"/>
<path d="M683 156h1v2h-1zM682 158h3v2h-3zM681 160h5v2h-5zM680 162h7v2h-7zM679 164h9v1h-9zM682 165h3v6h-3z" fill="#009400"/>
<path d="M695 158h1v2h-1zM694 160h3v2h-3zM693 162h5v2h-5zM692 164h7v2h-7zM691 166h9v1h-9zM694 167h3v6h-3z" fill="#009400"/>
<rect x="3" y="5" width="7" height="1" fill="#000"/>
<rect x="489" y="5" width="231" height="1" fill="#000"/>
<rect x="107" y="299" width="1" height="7" fill="#000"/>
<text x="110.8" y="310" fill="#000" font-size="12" text-anchor="start">Jun</text>
<rect x="186" y="299" width="1" height="7" fill="#000"/>
<text x="189.8" y="310" fill="#000" font-size="12" text-anchor="start">Jul</text>
<rect x="273" y="299" width="1" height="7" fill="#000"/>
<text x="276.8" y="310" fill="#000" font-size="12" text-anchor="start">Aug</text>
<rect x="356" y="299" width="1" height="7" fill="#000"/>
<text x="359.8" y="310" fill="#000" font-size="12" text-anchor="start">Sep</text>
<rect x="438" y="299" width="1" height="7" fill="#000"/>
<text x="441.8" y="310" fill="#000" font-size="12" text-anchor="start">Oct</text>
<rect x="529" y="299" width="1" height="7" fill="#000"/>
<text x="532.8" y="310" fill="#000" font-size="12" text-anchor="start">Nov</text>
<rect x="604" y="299" width="1" height="7" fill="#000"/>
<text x="607.8" y="310" fill="#000" font-size="12" text-anchor="start">Dec</text>
<rect x="691" y="299" width="1" height="7" fill="#000"/>
<text x="694.8" y="310" fill="#000" font-size="12" text-anchor="start">2026</text>
<text x="8.5" y="310" fill="#000" font-size="12" text-anchor="start">Apr</text>
<text x="10" y="10.8" font-size="12" xml:space="preserve" textLength="474.5" lengthAdjust="spacing"><tspan fill="#000">SJLD - Daily 2026-01-09 Open 25.285  High 25.285  Low 25.285  Close 25.285 (-0.9%)</tspan></text>
<text x="10" y="24.8" font-size="12" xml:space="preserve" textLength="357.5" lengthAdjust="spacing"><tspan fill="#000">Vol 1 </tspan><tspan fill="#f0f">Res-1</tspan><tspan fill="#000"> = 25.36, </tspan><tspan fill="#f00">Res-2</tspan><tspan fill="#000"> = 25.53, </tspan><tspan fill="#00f">Sup-1</tspan><tspan fill="#000"> = 25.28, </tspan><tspan fill="#009400">Sup-2</tspan><tspan fill="#000"> = 25.28</tspan></text>
<path d="M4 322h1v1h-1zM364 322h1v1h-1zM372 322h1v1h-1zM380 322h1v1h-1zM388 322h1v1h-1zM396 322h1v1h-1zM404 322h1v1h-1zM412 322h1v1h-1zM420 322h1v1h-1zM428 322h1v1h-1zM436 322h1v1h-1zM444 322h1v1h-1zM452 322h1v1h-1zM460 322h1v1h-1zM468 322h1v1h-1zM476 322h1v1h-1zM484 322h1v1h-1zM492 322h1v1h-1zM500 322h1v1h-1zM508 322h1v1h-1zM516 322h1v1h-1zM524 322h1v1h-1zM532 322h1v1h-1zM540 322h1v1h-1zM548 322h1v1h-1zM556 322h1v1h-1zM564 322h1v1h-1zM572 322h1v1h-1zM580 322h1v1h-1zM588 322h1v1h-1zM596 322h1v1h-1zM604 322h1v1h-1zM612 322h1v1h-1zM620 322h1v1h-1zM628 322h1v1h-1zM636 322h1v1h-1zM644 322h1v1h-1zM652 322h1v1h-1zM660 322h1v1h-1zM668 322h1v1h-1zM676 322h1v1h-1zM684 322h1v1h-1zM692 322h1v1h-1zM700 322h1v1h-1zM708 322h1v1h-1zM716 322h1v1h-1z" fill="#000"/>
<path d="M4 340h1v1h-1zM12 340h1v1h-1zM20 340h1v1h-1zM28 340h1v1h-1zM36 340h1v1h-1zM44 340h1v1h-1zM52 340h1v1h-1zM60 340h1v1h-1zM68 340h1v1h-1zM76 340h1v1h-1zM84 340h1v1h-1zM92 340h1v1h-1zM100 340h1v1h-1zM108 340h1v1h-1zM116 340h1v1h-1zM124 340h1v1h-1zM132 340h1v1h-1zM140 340h1v1h-1zM148 340h1v1h-1zM156 340h1v1h-1zM164 340h1v1h-1zM172 340h1v1h-1zM180 340h1v1h-1zM188 340h1v1h-1zM196 340h1v1h-1zM204 340h1v1h-1zM212 340h1v1h-1zM220 340h1v1h-1zM228 340h1v1h-1zM236 340h1v1h-1zM244 340h1v1h-1zM252 340h1v1h-1zM260 340h1v1h-1zM268 340h1v1h-1zM276 340h1v1h-1zM284 340h1v1h-1zM292 340h1v1h-1zM300 340h1v1h-1zM308 340h1v1h-1zM316 340h1v1h-1zM324 340h1v1h-1zM332 340h1v1h-1zM340 340h1v1h-1zM348 340h1v1h-1zM356 340h1v1h-1zM364 340h1v1h-1zM372 340h1v1h-1zM380 340h1v1h-1zM388 340h1v1h-1zM396 340h1v1h-1zM404 340h1v1h-1zM412 340h1v1h-1zM420 340h1v1h-1zM428 340h1v1h-1zM436 340h1v1h-1zM444 340h1v1h-1zM452 340h1v1h-1zM460 340h1v1h-1zM468 340h1v1h-1zM476 340h1v1h-1zM484 340h1v1h-1zM492 340h1v1h-1zM500 340h1v1h-1zM508 340h1v1h-1zM516 340h1v1h-1zM524 340h1v1h-1zM532 340h1v1h-1zM540 340h1v1h-1zM548 340h1v1h-1zM556 340h1v1h-1zM564 340h1v1h-1zM572 340h1v1h-1zM580 340h1v1h-1zM588 340h1v1h-1zM596 340h1v1h-1zM604 340h1v1h-1zM612 340h1v1h-1zM620 340h1v1h-1zM628 340h1v1h-1zM636 340h1v1h-1zM644 340h1v1h-1zM652 340h1v1h-1zM660 340h1v1h-1zM668 340h1v1h-1zM676 340h1v1h-1zM684 340h1v1h-1zM692 340h1v1h-1zM700 340h1v1h-1zM708 340h1v1h-1zM716 340h1v1h-1z" fill="#000"/>
<path d="M4 358h1v1h-1zM12 358h1v1h-1zM20 358h1v1h-1zM28 358h1v1h-1zM36 358h1v1h-1zM44 358h1v1h-1zM52 358h1v1h-1zM60 358h1v1h-1zM68 358h1v1h-1zM76 358h1v1h-1zM84 358h1v1h-1zM92 358h1v1h-1zM100 358h1v1h-1zM108 358h1v1h-1zM116 358h1v1h-1zM124 358h1v1h-1zM132 358h1v1h-1zM140 358h1v1h-1zM148 358h1v1h-1zM156 358h1v1h-1zM164 358h1v1h-1zM172 358h1v1h-1zM180 358h1v1h-1zM188 358h1v1h-1zM196 358h1v1h-1zM204 358h1v1h-1zM212 358h1v1h-1zM220 358h1v1h-1zM228 358h1v1h-1zM236 358h1v1h-1zM244 358h1v1h-1zM252 358h1v1h-1zM260 358h1v1h-1zM268 358h1v1h-1zM276 358h1v1h-1zM284 358h1v1h-1zM292 358h1v1h-1zM300 358h1v1h-1zM308 358h1v1h-1zM316 358h1v1h-1zM324 358h1v1h-1zM332 358h1v1h-1zM340 358h1v1h-1zM348 358h1v1h-1zM356 358h1v1h-1zM364 358h1v1h-1zM372 358h1v1h-1zM380 358h1v1h-1zM388 358h1v1h-1zM396 358h1v1h-1zM404 358h1v1h-1zM412 358h1v1h-1zM420 358h1v1h-1zM428 358h1v1h-1zM436 358h1v1h-1zM444 358h1v1h-1zM452 358h1v1h-1zM460 358h1v1h-1zM468 358h1v1h-1zM476 358h1v1h-1zM484 358h1v1h-1zM492 358h1v1h-1zM500 358h1v1h-1zM508 358h1v1h-1zM516 358h1v1h-1zM524 358h1v1h-1zM532 358h1v1h-1zM540 358h1v1h-1zM548 358h1v1h-1zM556 358h1v1h-1zM564 358h1v1h-1zM572 358h1v1h-1zM580 358h1v1h-1zM588 358h1v1h-1zM596 358h1v1h-1zM604 358h1v1h-1zM612 358h1v1h-1zM620 358h1v1h-1zM628 358h1v1h-1zM636 358h1v1h-1zM644 358h1v1h-1zM652 358h1v1h-1zM660 358h1v1h-1zM668 358h1v1h-1zM676 358h1v1h-1zM684 358h1v1h-1zM692 358h1v1h-1zM700 358h1v1h-1zM708 358h1v1h-1zM716 358h1v1h-1z" fill="#000"/>
<path d="M4 376h1v1h-1zM12 376h1v1h-1zM20 376h1v1h-1zM28 376h1v1h-1zM36 376h1v1h-1zM44 376h1v1h-1zM52 376h1v1h-1zM60 376h1v1h-1zM68 376h1v1h-1zM76 376h1v1h-1zM84 376h1v1h-1zM92 376h1v1h-1zM100 376h1v1h-1zM108 376h1v1h-1zM116 376h1v1h-1zM124 376h1v1h-1zM132 376h1v1h-1zM140 376h1v1h-1zM148 376h1v1h-1zM156 376h1v1h-1zM164 376h1v1h-1zM172 376h1v1h-1zM180 376h1v1h-1zM188 376h1v1h-1zM196 376h1v1h-1zM204 376h1v1h-1zM212 376h1v1h-1zM220 376h1v1h-1zM228 376h1v1h-1zM236 376h1v1h-1zM244 376h1v1h-1zM252 376h1v1h-1zM260 376h1v1h-1zM268 376h1v1h-1zM276 376h1v1h-1zM284 376h1v1h-1zM292 376h1v1h-1zM300 376h1v1h-1zM308 376h1v1h-1zM316 376h1v1h-1zM324 376h1v1h-1zM332 376h1v1h-1zM340 376h1v1h-1zM348 376h1v1h-1zM356 376h1v1h-1zM364 376h1v1h-1zM372 376h1v1h-1zM380 376h1v1h-1zM388 376h1v1h-1zM396 376h1v1h-1zM404 376h1v1h-1zM412 376h1v1h-1zM420 376h1v1h-1zM428 376h1v1h-1zM436 376h1v1h-1zM444 376h1v1h-1zM452 376h1v1h-1zM460 376h1v1h-1zM468 376h1v1h-1zM476 376h1v1h-1zM484 376h1v1h-1zM492 376h1v1h-1zM500 376h1v1h-1zM508 376h1v1h-1zM516 376h1v1h-1zM524 376h1v1h-1zM532 376h1v1h-1zM540 376h1v1h-1zM548 376h1v1h-1zM556 376h1v1h-1zM564 376h1v1h-1zM572 376h1v1h-1zM580 376h1v1h-1zM588 376h1v1h-1zM596 376h1v1h-1zM604 376h1v1h-1zM612 376h1v1h-1zM620 376h1v1h-1zM628 376h1v1h-1zM636 376h1v1h-1zM644 376h1v1h-1zM652 376h1v1h-1zM660 376h1v1h-1zM668 376h1v1h-1zM676 376h1v1h-1zM684 376h1v1h-1zM692 376h1v1h-1zM700 376h1v1h-1zM708 376h1v1h-1zM716 376h1v1h-1z" fill="#000"/>
<path d="M4 393h1v1h-1zM12 393h1v1h-1zM20 393h1v1h-1zM28 393h1v1h-1zM36 393h1v1h-1zM44 393h1v1h-1zM52 393h1v1h-1zM60 393h1v1h-1zM68 393h1v1h-1zM76 393h1v1h-1zM84 393h1v1h-1zM92 393h1v1h-1zM100 393h1v1h-1zM108 393h1v1h-1zM116 393h1v1h-1zM124 393h1v1h-1zM132 393h1v1h-1zM140 393h1v1h-1zM148 393h1v1h-1zM156 393h1v1h-1zM164 393h1v1h-1zM172 393h1v1h-1zM180 393h1v1h-1zM188 393h1v1h-1zM196 393h1v1h-1zM204 393h1v1h-1zM212 393h1v1h-1zM220 393h1v1h-1zM228 393h1v1h-1zM236 393h1v1h-1zM244 393h1v1h-1zM252 393h1v1h-1zM260 393h1v1h-1zM268 393h1v1h-1zM276 393h1v1h-1zM284 393h1v1h-1zM292 393h1v1h-1zM300 393h1v1h-1zM308 393h1v1h-1zM316 393h1v1h-1zM324 393h1v1h-1zM332 393h1v1h-1zM340 393h1v1h-1zM348 393h1v1h-1zM356 393h1v1h-1zM364 393h1v1h-1zM372 393h1v1h-1zM380 393h1v1h-1zM388 393h1v1h-1zM396 393h1v1h-1zM404 393h1v1h-1zM412 393h1v1h-1zM420 393h1v1h-1zM428 393h1v1h-1zM436 393h1v1h-1zM444 393h1v1h-1zM452 393h1v1h-1zM460 393h1v1h-1zM468 393h1v1h-1zM476 393h1v1h-1zM484 393h1v1h-1zM492 393h1v1h-1zM500 393h1v1h-1zM508 393h1v1h-1zM516 393h1v1h-1zM524 393h1v1h-1zM532 393h1v1h-1zM540 393h1v1h-1zM548 393h1v1h-1zM556 393h1v1h-1zM564 393h1v1h-1zM572 393h1v1h-1zM580 393h1v1h-1zM588 393h1v1h-1zM596 393h1v1h-1zM604 393h1v1h-1zM612 393h1v1h-1zM620 393h1v1h-1zM628 393h1v1h-1zM636 393h1v1h-1zM644 393h1v1h-1zM652 393h1v1h-1zM660 393h1v1h-1zM668 393h1v1h-1zM676 393h1v1h-1zM684 393h1v1h-1zM692 393h1v1h-1zM700 393h1v1h-1zM708 393h1v1h-1zM716 393h1v1h-1z" fill="#000"/>
<rect x="3" y="319" width="1" height="88" fill="#000"/>
<rect x="719" y="319" width="1" height="88" fill="#000"/>
<rect x="3" y="406" width="717" height="1" fill="#000"/>
<rect x="3" y="319" width="7" height="1" fill="#000"/>
<rect x="364" y="319" width="356" height="1" fill="#000"/>
<rect x="719" y="322" width="5" height="1" fill="#000"/>
<rect x="719" y="340" width="5" height="1" fill="#000"/>
<rect x="719" y="358" width="5" height="1" fill="#000"/>
<rect x="719" y="376" width="5" height="1" fill="#000"/>
<rect x="719" y="393" width="5" height="1" fill="#000"/>
<polyline points="72.6,371.2 83.3,370.3 91.4,355.0 99.5,347.0 104.0,338.0 108.5,339.5 234.9,339.5 238.5,338.0 476.9,338.0 481.4,329.9 485.0,327.2 646.0,327.2 648.0,326.3 650.0,327.2 711.0,327.2" fill="none" stroke="#000" stroke-width="1" stroke-linejoin="round"/>
<polyline points="72.6,371.2 87.8,371.5 101.3,369.4 148.0,369.4 149.8,375.7 153.4,388.2 157.8,399.0 391.8,399.0 395.4,393.3 398.1,393.6 403.5,401.7 479.6,401.7 480.5,400.5 635.7,400.5 639.2,398.1 642.8,391.8 647.3,383.7 650.9,391.8 655.4,399.0 711.0,399.0" fill="none" stroke="#000" stroke-width="1" stroke-linejoin="round"/>
<polyline points="99.5,357.7 104.0,350.5 112.1,346.9 119.2,346.0 122.0,349.6 126.4,354.1 131.8,358.1 139.0,359.5 147.1,360.4 149.8,366.7 155.2,379.2 160.5,385.5 165.9,386.4 171.3,383.7 182.1,376.6 187.5,372.1 192.9,369.4 201.7,368.8 208.0,366.3 214.2,364.9 218.7,360.4 224.1,358.6 229.5,355.0 234.9,348.7 239.4,344.2 244.8,340.6 248.3,342.4 251.9,343.3 256.4,346.0 261.8,347.8 265.4,350.5 269.0,355.9 272.6,353.2 278.0,349.6 283.4,347.3 290.5,347.3 297.7,348.7 306.7,351.4 312.1,351.4 319.3,353.8 326.4,354.5 333.5,348.7 339.7,345.1 346.9,341.5 354.1,340.6 359.5,343.0 372.1,342.4 375.7,344.2 382.8,349.6 390.9,355.0 393.6,363.1 399.0,375.7 404.4,383.7 408.0,387.3 414.3,387.3 420.5,382.8 427.7,380.1 436.7,375.7 445.7,371.7 452.9,370.6 459.9,368.1 470.6,364.0 476.9,355.0 482.3,342.4 489.5,336.5 498.5,336.5 503.0,333.5 507.5,338.0 512.8,343.3 517.3,350.5 521.8,359.1 525.4,359.1 530.8,353.2 539.8,346.0 546.9,345.7 555.9,349.6 564.9,355.0 575.7,360.4 590.8,360.4 611.4,363.1 620.4,357.7 624.9,361.3 632.1,358.6 636.6,351.4 641.0,353.2 644.6,356.8 647.3,364.9 651.8,374.8 655.4,382.8 664.4,388.2 669.8,387.9 675.2,384.6 682.3,380.1 691.3,374.8 695.8,366.7 703.9,364.9 708.4,358.6 711.1,360.4" fill="none" stroke="#0000ff" stroke-width="1" stroke-linejoin="round"/>
<polyline points="72.6,371.2 83.3,370.3 91.4,355.0 99.5,347.0 104.0,337.4 112.1,340.6 118.3,343.3 122.0,350.5 126.4,359.5 131.8,367.0 135.4,365.8 139.0,361.7 142.6,360.4 147.1,360.9 148.9,366.7 152.5,381.0 155.2,393.6 158.4,402.2 164.1,393.6 171.3,381.9 178.5,374.8 183.9,369.4 189.3,363.1 193.8,363.6 195.4,364.9 201.7,368.8 208.0,364.9 214.2,362.2 218.7,354.1 221.4,355.0 229.5,350.5 234.9,341.5 239.4,337.1 243.9,335.3 246.6,337.1 249.2,341.5 253.7,343.3 258.2,347.8 261.8,349.6 265.4,355.0 269.0,363.1 272.6,355.9 278.0,346.9 282.5,343.3 287.8,344.2 294.1,346.9 301.3,350.5 308.5,353.2 315.7,354.1 322.0,356.4 326.4,355.0 330.8,346.9 338.0,338.9 344.2,336.7 353.2,338.0 355.9,340.6 360.4,343.3 364.9,342.4 372.1,342.4 377.5,345.1 382.8,355.0 387.3,360.4 391.8,363.1 395.4,381.0 399.0,395.4 403.5,404.0 406.2,401.7 413.4,387.3 419.6,379.2 427.7,374.8 436.7,372.1 443.9,368.5 451.1,368.5 456.4,367.0 460.8,365.8 469.7,360.4 475.1,351.4 478.7,338.0 482.3,325.4 485.9,323.2 489.5,326.3 494.0,332.2 498.5,334.4 502.1,330.8 507.5,339.7 513.7,355.0 518.2,366.7 521.5,375.7 524.5,372.1 528.1,357.7 532.6,342.4 538.0,337.1 543.4,340.6 548.7,345.1 554.1,349.6 559.5,354.1 562.2,358.6 569.4,363.1 575.7,363.1 582.9,361.3 599.7,361.7 612.3,364.0 615.9,360.4 620.4,354.1 624.0,359.9 628.5,360.4 633.0,357.7 636.6,342.4 640.1,346.9 643.7,353.2 645.5,359.5 647.3,375.7 650.0,390.0 655.4,402.9 660.8,398.1 668.0,390.0 673.4,383.7 680.5,376.6 686.8,372.1 692.2,368.5 694.9,355.9 698.5,355.4 703.9,360.4 707.5,353.2 711.1,354.5" fill="none" stroke="#ff0000" stroke-width="1" stroke-linejoin="round"/>
<text x="10" y="324.8" font-size="12" xml:space="preserve" textLength="353.5" lengthAdjust="spacing"><tspan fill="#000">SJLD - </tspan><tspan fill="#f00">Line</tspan><tspan fill="#000"> = 62.42, Top = 94.09, Bottom = 13.96, </tspan><tspan fill="#00f">Signal</tspan><tspan fill="#000"> = 57.69</tspan></text>
<path d="M4 417h1v1h-1zM460 417h1v1h-1zM468 417h1v1h-1zM476 417h1v1h-1zM484 417h1v1h-1zM492 417h1v1h-1zM500 417h1v1h-1zM508 417h1v1h-1zM516 417h1v1h-1zM524 417h1v1h-1zM532 417h1v1h-1zM540 417h1v1h-1zM548 417h1v1h-1zM556 417h1v1h-1zM564 417h1v1h-1zM572 417h1v1h-1zM580 417h1v1h-1zM588 417h1v1h-1zM596 417h1v1h-1zM604 417h1v1h-1zM612 417h1v1h-1zM620 417h1v1h-1zM628 417h1v1h-1zM636 417h1v1h-1zM644 417h1v1h-1zM652 417h1v1h-1zM660 417h1v1h-1zM668 417h1v1h-1zM676 417h1v1h-1zM684 417h1v1h-1zM692 417h1v1h-1zM700 417h1v1h-1zM708 417h1v1h-1zM716 417h1v1h-1z" fill="#000"/>
<path d="M4 444h1v1h-1zM12 444h1v1h-1zM20 444h1v1h-1zM28 444h1v1h-1zM36 444h1v1h-1zM44 444h1v1h-1zM52 444h1v1h-1zM60 444h1v1h-1zM68 444h1v1h-1zM76 444h1v1h-1zM84 444h1v1h-1zM92 444h1v1h-1zM100 444h1v1h-1zM108 444h1v1h-1zM116 444h1v1h-1zM124 444h1v1h-1zM132 444h1v1h-1zM140 444h1v1h-1zM148 444h1v1h-1zM156 444h1v1h-1zM164 444h1v1h-1zM172 444h1v1h-1zM180 444h1v1h-1zM188 444h1v1h-1zM196 444h1v1h-1zM204 444h1v1h-1zM212 444h1v1h-1zM220 444h1v1h-1zM228 444h1v1h-1zM236 444h1v1h-1zM244 444h1v1h-1zM252 444h1v1h-1zM260 444h1v1h-1zM268 444h1v1h-1zM276 444h1v1h-1zM284 444h1v1h-1zM292 444h1v1h-1zM300 444h1v1h-1zM308 444h1v1h-1zM316 444h1v1h-1zM324 444h1v1h-1zM332 444h1v1h-1zM340 444h1v1h-1zM348 444h1v1h-1zM356 444h1v1h-1zM364 444h1v1h-1zM372 444h1v1h-1zM380 444h1v1h-1zM388 444h1v1h-1zM396 444h1v1h-1zM404 444h1v1h-1zM412 444h1v1h-1zM420 444h1v1h-1zM428 444h1v1h-1zM436 444h1v1h-1zM444 444h1v1h-1zM452 444h1v1h-1zM460 444h1v1h-1zM468 444h1v1h-1zM476 444h1v1h-1zM484 444h1v1h-1zM492 444h1v1h-1zM500 444h1v1h-1zM508 444h1v1h-1zM516 444h1v1h-1zM524 444h1v1h-1zM532 444h1v1h-1zM540 444h1v1h-1zM548 444h1v1h-1zM556 444h1v1h-1zM564 444h1v1h-1zM572 444h1v1h-1zM580 444h1v1h-1zM588 444h1v1h-1zM596 444h1v1h-1zM604 444h1v1h-1zM612 444h1v1h-1zM620 444h1v1h-1zM628 444h1v1h-1zM636 444h1v1h-1zM644 444h1v1h-1zM652 444h1v1h-1zM660 444h1v1h-1zM668 444h1v1h-1zM676 444h1v1h-1zM684 444h1v1h-1zM692 444h1v1h-1zM700 444h1v1h-1zM708 444h1v1h-1zM716 444h1v1h-1z" fill="#000"/>
<path d="M4 472h1v1h-1zM12 472h1v1h-1zM20 472h1v1h-1zM28 472h1v1h-1zM36 472h1v1h-1zM44 472h1v1h-1zM52 472h1v1h-1zM60 472h1v1h-1zM68 472h1v1h-1zM76 472h1v1h-1zM84 472h1v1h-1zM92 472h1v1h-1zM100 472h1v1h-1zM108 472h1v1h-1zM116 472h1v1h-1zM124 472h1v1h-1zM132 472h1v1h-1zM140 472h1v1h-1zM148 472h1v1h-1zM156 472h1v1h-1zM164 472h1v1h-1zM172 472h1v1h-1zM180 472h1v1h-1zM188 472h1v1h-1zM196 472h1v1h-1zM204 472h1v1h-1zM212 472h1v1h-1zM220 472h1v1h-1zM228 472h1v1h-1zM236 472h1v1h-1zM244 472h1v1h-1zM252 472h1v1h-1zM260 472h1v1h-1zM268 472h1v1h-1zM276 472h1v1h-1zM284 472h1v1h-1zM292 472h1v1h-1zM300 472h1v1h-1zM308 472h1v1h-1zM316 472h1v1h-1zM324 472h1v1h-1zM332 472h1v1h-1zM340 472h1v1h-1zM348 472h1v1h-1zM356 472h1v1h-1zM364 472h1v1h-1zM372 472h1v1h-1zM380 472h1v1h-1zM388 472h1v1h-1zM396 472h1v1h-1zM404 472h1v1h-1zM412 472h1v1h-1zM420 472h1v1h-1zM428 472h1v1h-1zM436 472h1v1h-1zM444 472h1v1h-1zM452 472h1v1h-1zM460 472h1v1h-1zM468 472h1v1h-1zM476 472h1v1h-1zM484 472h1v1h-1zM492 472h1v1h-1zM500 472h1v1h-1zM508 472h1v1h-1zM516 472h1v1h-1zM524 472h1v1h-1zM532 472h1v1h-1zM540 472h1v1h-1zM548 472h1v1h-1zM556 472h1v1h-1zM564 472h1v1h-1zM572 472h1v1h-1zM580 472h1v1h-1zM588 472h1v1h-1zM596 472h1v1h-1zM604 472h1v1h-1zM612 472h1v1h-1zM620 472h1v1h-1zM628 472h1v1h-1zM636 472h1v1h-1zM644 472h1v1h-1zM652 472h1v1h-1zM660 472h1v1h-1zM668 472h1v1h-1zM676 472h1v1h-1zM684 472h1v1h-1zM692 472h1v1h-1zM700 472h1v1h-1zM708 472h1v1h-1zM716 472h1v1h-1z" fill="#000"/>
<path d="M4 500h1v1h-1zM12 500h1v1h-1zM20 500h1v1h-1zM28 500h1v1h-1zM36 500h1v1h-1zM44 500h1v1h-1zM52 500h1v1h-1zM60 500h1v1h-1zM68 500h1v1h-1zM76 500h1v1h-1zM84 500h1v1h-1zM92 500h1v1h-1zM100 500h1v1h-1zM108 500h1v1h-1zM116 500h1v1h-1zM124 500h1v1h-1zM132 500h1v1h-1zM140 500h1v1h-1zM148 500h1v1h-1zM156 500h1v1h-1zM164 500h1v1h-1zM172 500h1v1h-1zM180 500h1v1h-1zM188 500h1v1h-1zM196 500h1v1h-1zM204 500h1v1h-1zM212 500h1v1h-1zM220 500h1v1h-1zM228 500h1v1h-1zM236 500h1v1h-1zM244 500h1v1h-1zM252 500h1v1h-1zM260 500h1v1h-1zM268 500h1v1h-1zM276 500h1v1h-1zM284 500h1v1h-1zM292 500h1v1h-1zM300 500h1v1h-1zM308 500h1v1h-1zM316 500h1v1h-1zM324 500h1v1h-1zM332 500h1v1h-1zM340 500h1v1h-1zM348 500h1v1h-1zM356 500h1v1h-1zM364 500h1v1h-1zM372 500h1v1h-1zM380 500h1v1h-1zM388 500h1v1h-1zM396 500h1v1h-1zM404 500h1v1h-1zM412 500h1v1h-1zM420 500h1v1h-1zM428 500h1v1h-1zM436 500h1v1h-1zM444 500h1v1h-1zM452 500h1v1h-1zM460 500h1v1h-1zM468 500h1v1h-1zM476 500h1v1h-1zM484 500h1v1h-1zM492 500h1v1h-1zM500 500h1v1h-1zM508 500h1v1h-1zM516 500h1v1h-1zM524 500h1v1h-1zM532 500h1v1h-1zM540 500h1v1h-1zM548 500h1v1h-1zM556 500h1v1h-1zM564 500h1v1h-1zM572 500h1v1h-1zM580 500h1v1h-1zM588 500h1v1h-1zM596 500h1v1h-1zM604 500h1v1h-1zM612 500h1v1h-1zM620 500h1v1h-1zM628 500h1v1h-1zM636 500h1v1h-1zM644 500h1v1h-1zM652 500h1v1h-1zM660 500h1v1h-1zM668 500h1v1h-1zM676 500h1v1h-1zM684 500h1v1h-1zM692 500h1v1h-1zM700 500h1v1h-1zM708 500h1v1h-1zM716 500h1v1h-1z" fill="#000"/>
<path d="M4 528h1v1h-1zM12 528h1v1h-1zM20 528h1v1h-1zM28 528h1v1h-1zM36 528h1v1h-1zM44 528h1v1h-1zM52 528h1v1h-1zM60 528h1v1h-1zM68 528h1v1h-1zM76 528h1v1h-1zM84 528h1v1h-1zM92 528h1v1h-1zM100 528h1v1h-1zM108 528h1v1h-1zM116 528h1v1h-1zM124 528h1v1h-1zM132 528h1v1h-1zM140 528h1v1h-1zM148 528h1v1h-1zM156 528h1v1h-1zM164 528h1v1h-1zM172 528h1v1h-1zM180 528h1v1h-1zM188 528h1v1h-1zM196 528h1v1h-1zM204 528h1v1h-1zM212 528h1v1h-1zM220 528h1v1h-1zM228 528h1v1h-1zM236 528h1v1h-1zM244 528h1v1h-1zM252 528h1v1h-1zM260 528h1v1h-1zM268 528h1v1h-1zM276 528h1v1h-1zM284 528h1v1h-1zM292 528h1v1h-1zM300 528h1v1h-1zM308 528h1v1h-1zM316 528h1v1h-1zM324 528h1v1h-1zM332 528h1v1h-1zM340 528h1v1h-1zM348 528h1v1h-1zM356 528h1v1h-1zM364 528h1v1h-1zM372 528h1v1h-1zM380 528h1v1h-1zM388 528h1v1h-1zM396 528h1v1h-1zM404 528h1v1h-1zM412 528h1v1h-1zM420 528h1v1h-1zM428 528h1v1h-1zM436 528h1v1h-1zM444 528h1v1h-1zM452 528h1v1h-1zM460 528h1v1h-1zM468 528h1v1h-1zM476 528h1v1h-1zM484 528h1v1h-1zM492 528h1v1h-1zM500 528h1v1h-1zM508 528h1v1h-1zM516 528h1v1h-1zM524 528h1v1h-1zM532 528h1v1h-1zM540 528h1v1h-1zM548 528h1v1h-1zM556 528h1v1h-1zM564 528h1v1h-1zM572 528h1v1h-1zM580 528h1v1h-1zM588 528h1v1h-1zM596 528h1v1h-1zM604 528h1v1h-1zM612 528h1v1h-1zM620 528h1v1h-1zM628 528h1v1h-1zM636 528h1v1h-1zM644 528h1v1h-1zM652 528h1v1h-1zM660 528h1v1h-1zM668 528h1v1h-1zM676 528h1v1h-1zM684 528h1v1h-1zM692 528h1v1h-1zM700 528h1v1h-1zM708 528h1v1h-1zM716 528h1v1h-1z" fill="#000"/>
<path d="M4 556h1v1h-1zM12 556h1v1h-1zM20 556h1v1h-1zM28 556h1v1h-1zM36 556h1v1h-1zM44 556h1v1h-1zM52 556h1v1h-1zM60 556h1v1h-1zM68 556h1v1h-1zM76 556h1v1h-1zM84 556h1v1h-1zM92 556h1v1h-1zM100 556h1v1h-1zM108 556h1v1h-1zM116 556h1v1h-1zM124 556h1v1h-1zM132 556h1v1h-1zM140 556h1v1h-1zM148 556h1v1h-1zM156 556h1v1h-1zM164 556h1v1h-1zM172 556h1v1h-1zM180 556h1v1h-1zM188 556h1v1h-1zM196 556h1v1h-1zM204 556h1v1h-1zM212 556h1v1h-1zM220 556h1v1h-1zM228 556h1v1h-1zM236 556h1v1h-1zM244 556h1v1h-1zM252 556h1v1h-1zM260 556h1v1h-1zM268 556h1v1h-1zM276 556h1v1h-1zM284 556h1v1h-1zM292 556h1v1h-1zM300 556h1v1h-1zM308 556h1v1h-1zM316 556h1v1h-1zM324 556h1v1h-1zM332 556h1v1h-1zM340 556h1v1h-1zM348 556h1v1h-1zM356 556h1v1h-1zM364 556h1v1h-1zM372 556h1v1h-1zM380 556h1v1h-1zM388 556h1v1h-1zM396 556h1v1h-1zM404 556h1v1h-1zM412 556h1v1h-1zM420 556h1v1h-1zM428 556h1v1h-1zM436 556h1v1h-1zM444 556h1v1h-1zM452 556h1v1h-1zM460 556h1v1h-1zM468 556h1v1h-1zM476 556h1v1h-1zM484 556h1v1h-1zM492 556h1v1h-1zM500 556h1v1h-1zM508 556h1v1h-1zM516 556h1v1h-1zM524 556h1v1h-1zM532 556h1v1h-1zM540 556h1v1h-1zM548 556h1v1h-1zM556 556h1v1h-1zM564 556h1v1h-1zM572 556h1v1h-1zM580 556h1v1h-1zM588 556h1v1h-1zM596 556h1v1h-1zM604 556h1v1h-1zM612 556h1v1h-1zM620 556h1v1h-1zM628 556h1v1h-1zM636 556h1v1h-1zM644 556h1v1h-1zM652 556h1v1h-1zM660 556h1v1h-1zM668 556h1v1h-1zM676 556h1v1h-1zM684 556h1v1h-1zM692 556h1v1h-1zM700 556h1v1h-1zM708 556h1v1h-1zM716 556h1v1h-1z" fill="#000"/>
<path d="M4 584h1v1h-1zM12 584h1v1h-1zM20 584h1v1h-1zM28 584h1v1h-1zM36 584h1v1h-1zM44 584h1v1h-1zM52 584h1v1h-1zM60 584h1v1h-1zM68 584h1v1h-1zM76 584h1v1h-1zM84 584h1v1h-1zM92 584h1v1h-1zM100 584h1v1h-1zM108 584h1v1h-1zM116 584h1v1h-1zM124 584h1v1h-1zM132 584h1v1h-1zM140 584h1v1h-1zM148 584h1v1h-1zM156 584h1v1h-1zM164 584h1v1h-1zM172 584h1v1h-1zM180 584h1v1h-1zM188 584h1v1h-1zM196 584h1v1h-1zM204 584h1v1h-1zM212 584h1v1h-1zM220 584h1v1h-1zM228 584h1v1h-1zM236 584h1v1h-1zM244 584h1v1h-1zM252 584h1v1h-1zM260 584h1v1h-1zM268 584h1v1h-1zM276 584h1v1h-1zM284 584h1v1h-1zM292 584h1v1h-1zM300 584h1v1h-1zM308 584h1v1h-1zM316 584h1v1h-1zM324 584h1v1h-1zM332 584h1v1h-1zM340 584h1v1h-1zM348 584h1v1h-1zM356 584h1v1h-1zM364 584h1v1h-1zM372 584h1v1h-1zM380 584h1v1h-1zM388 584h1v1h-1zM396 584h1v1h-1zM404 584h1v1h-1zM412 584h1v1h-1zM420 584h1v1h-1zM428 584h1v1h-1zM436 584h1v1h-1zM444 584h1v1h-1zM452 584h1v1h-1zM460 584h1v1h-1zM468 584h1v1h-1zM476 584h1v1h-1zM484 584h1v1h-1zM492 584h1v1h-1zM500 584h1v1h-1zM508 584h1v1h-1zM516 584h1v1h-1zM524 584h1v1h-1zM532 584h1v1h-1zM540 584h1v1h-1zM548 584h1v1h-1zM556 584h1v1h-1zM564 584h1v1h-1zM572 584h1v1h-1zM580 584h1v1h-1zM588 584h1v1h-1zM596 584h1v1h-1zM604 584h1v1h-1zM612 584h1v1h-1zM620 584h1v1h-1zM628 584h1v1h-1zM636 584h1v1h-1zM644 584h1v1h-1zM652 584h1v1h-1zM660 584h1v1h-1zM668 584h1v1h-1zM676 584h1v1h-1zM684 584h1v1h-1zM692 584h1v1h-1zM700 584h1v1h-1zM708 584h1v1h-1zM716 584h1v1h-1z" fill="#000"/>
<path d="M4 611h1v1h-1zM12 611h1v1h-1zM20 611h1v1h-1zM28 611h1v1h-1zM36 611h1v1h-1zM44 611h1v1h-1zM52 611h1v1h-1zM60 611h1v1h-1zM68 611h1v1h-1zM76 611h1v1h-1zM84 611h1v1h-1zM92 611h1v1h-1zM100 611h1v1h-1zM108 611h1v1h-1zM116 611h1v1h-1zM124 611h1v1h-1zM132 611h1v1h-1zM140 611h1v1h-1zM148 611h1v1h-1zM156 611h1v1h-1zM164 611h1v1h-1zM172 611h1v1h-1zM180 611h1v1h-1zM188 611h1v1h-1zM196 611h1v1h-1zM204 611h1v1h-1zM212 611h1v1h-1zM220 611h1v1h-1zM228 611h1v1h-1zM236 611h1v1h-1zM244 611h1v1h-1zM252 611h1v1h-1zM260 611h1v1h-1zM268 611h1v1h-1zM276 611h1v1h-1zM284 611h1v1h-1zM292 611h1v1h-1zM300 611h1v1h-1zM308 611h1v1h-1zM316 611h1v1h-1zM324 611h1v1h-1zM332 611h1v1h-1zM340 611h1v1h-1zM348 611h1v1h-1zM356 611h1v1h-1zM364 611h1v1h-1zM372 611h1v1h-1zM380 611h1v1h-1zM388 611h1v1h-1zM396 611h1v1h-1zM404 611h1v1h-1zM412 611h1v1h-1zM420 611h1v1h-1zM428 611h1v1h-1zM436 611h1v1h-1zM444 611h1v1h-1zM452 611h1v1h-1zM460 611h1v1h-1zM468 611h1v1h-1zM476 611h1v1h-1zM484 611h1v1h-1zM492 611h1v1h-1zM500 611h1v1h-1zM508 611h1v1h-1zM516 611h1v1h-1zM524 611h1v1h-1zM532 611h1v1h-1zM540 611h1v1h-1zM548 611h1v1h-1zM556 611h1v1h-1zM564 611h1v1h-1zM572 611h1v1h-1zM580 611h1v1h-1zM588 611h1v1h-1zM596 611h1v1h-1zM604 611h1v1h-1zM612 611h1v1h-1zM620 611h1v1h-1zM628 611h1v1h-1zM636 611h1v1h-1zM644 611h1v1h-1zM652 611h1v1h-1zM660 611h1v1h-1zM668 611h1v1h-1zM676 611h1v1h-1zM684 611h1v1h-1zM692 611h1v1h-1zM700 611h1v1h-1zM708 611h1v1h-1zM716 611h1v1h-1z" fill="#000"/>
<path d="M4 639h1v1h-1zM12 639h1v1h-1zM20 639h1v1h-1zM28 639h1v1h-1zM36 639h1v1h-1zM44 639h1v1h-1zM52 639h1v1h-1zM60 639h1v1h-1zM68 639h1v1h-1zM76 639h1v1h-1zM84 639h1v1h-1zM92 639h1v1h-1zM100 639h1v1h-1zM108 639h1v1h-1zM116 639h1v1h-1zM124 639h1v1h-1zM132 639h1v1h-1zM140 639h1v1h-1zM148 639h1v1h-1zM156 639h1v1h-1zM164 639h1v1h-1zM172 639h1v1h-1zM180 639h1v1h-1zM188 639h1v1h-1zM196 639h1v1h-1zM204 639h1v1h-1zM212 639h1v1h-1zM220 639h1v1h-1zM228 639h1v1h-1zM236 639h1v1h-1zM244 639h1v1h-1zM252 639h1v1h-1zM260 639h1v1h-1zM268 639h1v1h-1zM276 639h1v1h-1zM284 639h1v1h-1zM292 639h1v1h-1zM300 639h1v1h-1zM308 639h1v1h-1zM316 639h1v1h-1zM324 639h1v1h-1zM332 639h1v1h-1zM340 639h1v1h-1zM348 639h1v1h-1zM356 639h1v1h-1zM364 639h1v1h-1zM372 639h1v1h-1zM380 639h1v1h-1zM388 639h1v1h-1zM396 639h1v1h-1zM404 639h1v1h-1zM412 639h1v1h-1zM420 639h1v1h-1zM428 639h1v1h-1zM436 639h1v1h-1zM444 639h1v1h-1zM452 639h1v1h-1zM460 639h1v1h-1zM468 639h1v1h-1zM476 639h1v1h-1zM484 639h1v1h-1zM492 639h1v1h-1zM500 639h1v1h-1zM508 639h1v1h-1zM516 639h1v1h-1zM524 639h1v1h-1zM532 639h1v1h-1zM540 639h1v1h-1zM548 639h1v1h-1zM556 639h1v1h-1zM564 639h1v1h-1zM572 639h1v1h-1zM580 639h1v1h-1zM588 639h1v1h-1zM596 639h1v1h-1zM604 639h1v1h-1zM612 639h1v1h-1zM620 639h1v1h-1zM628 639h1v1h-1zM636 639h1v1h-1zM644 639h1v1h-1zM652 639h1v1h-1zM660 639h1v1h-1zM668 639h1v1h-1zM676 639h1v1h-1zM684 639h1v1h-1zM692 639h1v1h-1zM700 639h1v1h-1zM708 639h1v1h-1zM716 639h1v1h-1z" fill="#000"/>
<path d="M4 667h1v1h-1zM12 667h1v1h-1zM20 667h1v1h-1zM28 667h1v1h-1zM36 667h1v1h-1zM44 667h1v1h-1zM52 667h1v1h-1zM60 667h1v1h-1zM68 667h1v1h-1zM76 667h1v1h-1zM84 667h1v1h-1zM92 667h1v1h-1zM100 667h1v1h-1zM108 667h1v1h-1zM116 667h1v1h-1zM124 667h1v1h-1zM132 667h1v1h-1zM140 667h1v1h-1zM148 667h1v1h-1zM156 667h1v1h-1zM164 667h1v1h-1zM172 667h1v1h-1zM180 667h1v1h-1zM188 667h1v1h-1zM196 667h1v1h-1zM204 667h1v1h-1zM212 667h1v1h-1zM220 667h1v1h-1zM228 667h1v1h-1zM236 667h1v1h-1zM244 667h1v1h-1zM252 667h1v1h-1zM260 667h1v1h-1zM268 667h1v1h-1zM276 667h1v1h-1zM284 667h1v1h-1zM292 667h1v1h-1zM300 667h1v1h-1zM308 667h1v1h-1zM316 667h1v1h-1zM324 667h1v1h-1zM332 667h1v1h-1zM340 667h1v1h-1zM348 667h1v1h-1zM356 667h1v1h-1zM364 667h1v1h-1zM372 667h1v1h-1zM380 667h1v1h-1zM388 667h1v1h-1zM396 667h1v1h-1zM404 667h1v1h-1zM412 667h1v1h-1zM420 667h1v1h-1zM428 667h1v1h-1zM436 667h1v1h-1zM444 667h1v1h-1zM452 667h1v1h-1zM460 667h1v1h-1zM468 667h1v1h-1zM476 667h1v1h-1zM484 667h1v1h-1zM492 667h1v1h-1zM500 667h1v1h-1zM508 667h1v1h-1zM516 667h1v1h-1zM524 667h1v1h-1zM532 667h1v1h-1zM540 667h1v1h-1zM548 667h1v1h-1zM556 667h1v1h-1zM564 667h1v1h-1zM572 667h1v1h-1zM580 667h1v1h-1zM588 667h1v1h-1zM596 667h1v1h-1zM604 667h1v1h-1zM612 667h1v1h-1zM620 667h1v1h-1zM628 667h1v1h-1zM636 667h1v1h-1zM644 667h1v1h-1zM652 667h1v1h-1zM660 667h1v1h-1zM668 667h1v1h-1zM676 667h1v1h-1zM684 667h1v1h-1zM692 667h1v1h-1zM700 667h1v1h-1zM708 667h1v1h-1zM716 667h1v1h-1z" fill="#000"/>
<path d="M4 695h1v1h-1zM12 695h1v1h-1zM20 695h1v1h-1zM28 695h1v1h-1zM36 695h1v1h-1zM44 695h1v1h-1zM52 695h1v1h-1zM60 695h1v1h-1zM68 695h1v1h-1zM76 695h1v1h-1zM84 695h1v1h-1zM92 695h1v1h-1zM100 695h1v1h-1zM108 695h1v1h-1zM116 695h1v1h-1zM124 695h1v1h-1zM132 695h1v1h-1zM140 695h1v1h-1zM148 695h1v1h-1zM156 695h1v1h-1zM164 695h1v1h-1zM172 695h1v1h-1zM180 695h1v1h-1zM188 695h1v1h-1zM196 695h1v1h-1zM204 695h1v1h-1zM212 695h1v1h-1zM220 695h1v1h-1zM228 695h1v1h-1zM236 695h1v1h-1zM244 695h1v1h-1zM252 695h1v1h-1zM260 695h1v1h-1zM268 695h1v1h-1zM276 695h1v1h-1zM284 695h1v1h-1zM292 695h1v1h-1zM300 695h1v1h-1zM308 695h1v1h-1zM316 695h1v1h-1zM324 695h1v1h-1zM332 695h1v1h-1zM340 695h1v1h-1zM348 695h1v1h-1zM356 695h1v1h-1zM364 695h1v1h-1zM372 695h1v1h-1zM380 695h1v1h-1zM388 695h1v1h-1zM396 695h1v1h-1zM404 695h1v1h-1zM412 695h1v1h-1zM420 695h1v1h-1zM428 695h1v1h-1zM436 695h1v1h-1zM444 695h1v1h-1zM452 695h1v1h-1zM460 695h1v1h-1zM468 695h1v1h-1zM476 695h1v1h-1zM484 695h1v1h-1zM492 695h1v1h-1zM500 695h1v1h-1zM508 695h1v1h-1zM516 695h1v1h-1zM524 695h1v1h-1zM532 695h1v1h-1zM540 695h1v1h-1zM548 695h1v1h-1zM556 695h1v1h-1zM564 695h1v1h-1zM572 695h1v1h-1zM580 695h1v1h-1zM588 695h1v1h-1zM596 695h1v1h-1zM604 695h1v1h-1zM612 695h1v1h-1zM620 695h1v1h-1zM628 695h1v1h-1zM636 695h1v1h-1zM644 695h1v1h-1zM652 695h1v1h-1zM660 695h1v1h-1zM668 695h1v1h-1zM676 695h1v1h-1zM684 695h1v1h-1zM692 695h1v1h-1zM700 695h1v1h-1zM708 695h1v1h-1zM716 695h1v1h-1z" fill="#000"/>
<path d="M4 723h1v1h-1zM12 723h1v1h-1zM20 723h1v1h-1zM28 723h1v1h-1zM36 723h1v1h-1zM44 723h1v1h-1zM52 723h1v1h-1zM60 723h1v1h-1zM68 723h1v1h-1zM76 723h1v1h-1zM84 723h1v1h-1zM92 723h1v1h-1zM100 723h1v1h-1zM108 723h1v1h-1zM116 723h1v1h-1zM124 723h1v1h-1zM132 723h1v1h-1zM140 723h1v1h-1zM148 723h1v1h-1zM156 723h1v1h-1zM164 723h1v1h-1zM172 723h1v1h-1zM180 723h1v1h-1zM188 723h1v1h-1zM196 723h1v1h-1zM204 723h1v1h-1zM212 723h1v1h-1zM220 723h1v1h-1zM228 723h1v1h-1zM236 723h1v1h-1zM244 723h1v1h-1zM252 723h1v1h-1zM260 723h1v1h-1zM268 723h1v1h-1zM276 723h1v1h-1zM284 723h1v1h-1zM292 723h1v1h-1zM300 723h1v1h-1zM308 723h1v1h-1zM316 723h1v1h-1zM324 723h1v1h-1zM332 723h1v1h-1zM340 723h1v1h-1zM348 723h1v1h-1zM356 723h1v1h-1zM364 723h1v1h-1zM372 723h1v1h-1zM380 723h1v1h-1zM388 723h1v1h-1zM396 723h1v1h-1zM404 723h1v1h-1zM412 723h1v1h-1zM420 723h1v1h-1zM428 723h1v1h-1zM436 723h1v1h-1zM444 723h1v1h-1zM452 723h1v1h-1zM460 723h1v1h-1zM468 723h1v1h-1zM476 723h1v1h-1zM484 723h1v1h-1zM492 723h1v1h-1zM500 723h1v1h-1zM508 723h1v1h-1zM516 723h1v1h-1zM524 723h1v1h-1zM532 723h1v1h-1zM540 723h1v1h-1zM548 723h1v1h-1zM556 723h1v1h-1zM564 723h1v1h-1zM572 723h1v1h-1zM580 723h1v1h-1zM588 723h1v1h-1zM596 723h1v1h-1zM604 723h1v1h-1zM612 723h1v1h-1zM620 723h1v1h-1zM628 723h1v1h-1zM636 723h1v1h-1zM644 723h1v1h-1zM652 723h1v1h-1zM660 723h1v1h-1zM668 723h1v1h-1zM676 723h1v1h-1zM684 723h1v1h-1zM692 723h1v1h-1zM700 723h1v1h-1zM708 723h1v1h-1zM716 723h1v1h-1z" fill="#000"/>
<path d="M691 424h1v1h-1zM691 432h1v1h-1zM691 440h1v1h-1zM691 448h1v1h-1zM691 456h1v1h-1zM691 464h1v1h-1zM691 472h1v1h-1zM691 480h1v1h-1zM691 488h1v1h-1zM691 496h1v1h-1zM691 504h1v1h-1zM691 512h1v1h-1zM691 520h1v1h-1zM691 528h1v1h-1zM691 536h1v1h-1zM691 544h1v1h-1zM691 552h1v1h-1zM691 560h1v1h-1zM691 568h1v1h-1zM691 576h1v1h-1zM691 584h1v1h-1zM691 592h1v1h-1zM691 600h1v1h-1zM691 608h1v1h-1zM691 616h1v1h-1zM691 624h1v1h-1zM691 632h1v1h-1zM691 640h1v1h-1zM691 648h1v1h-1zM691 656h1v1h-1zM691 664h1v1h-1zM691 672h1v1h-1zM691 680h1v1h-1zM691 688h1v1h-1zM691 696h1v1h-1zM691 704h1v1h-1zM691 712h1v1h-1zM691 720h1v1h-1z" fill="#000"/>
<rect x="3" y="416" width="1" height="316" fill="#000"/>
<rect x="719" y="416" width="1" height="316" fill="#000"/>
<rect x="3" y="731" width="717" height="1" fill="#000"/>
<rect x="3" y="416" width="7" height="1" fill="#000"/>
<rect x="460" y="416" width="260" height="1" fill="#000"/>
<rect x="719" y="417" width="5" height="1" fill="#000"/>
<rect x="719" y="444" width="5" height="1" fill="#000"/>
<rect x="719" y="472" width="5" height="1" fill="#000"/>
<rect x="719" y="500" width="5" height="1" fill="#000"/>
<rect x="719" y="528" width="5" height="1" fill="#000"/>
<rect x="719" y="556" width="5" height="1" fill="#000"/>
<rect x="719" y="584" width="5" height="1" fill="#000"/>
<rect x="719" y="611" width="5" height="1" fill="#000"/>
<rect x="719" y="639" width="5" height="1" fill="#000"/>
<rect x="719" y="667" width="5" height="1" fill="#000"/>
<rect x="719" y="695" width="5" height="1" fill="#000"/>
<rect x="719" y="723" width="5" height="1" fill="#000"/>
<path d="M4 601h3v3h-3zM7 600h3v3h-3zM11 598h3v3h-3zM15 597h3v3h-3zM19 596h3v3h-3zM23 596h3v3h-3zM27 596h3v3h-3zM31 596h3v3h-3zM35 596h3v3h-3zM39 596h3v3h-3zM43 596h3v3h-3zM47 596h3v3h-3zM51 596h3v3h-3zM55 596h3v3h-3zM59 596h3v3h-3zM63 596h3v3h-3zM67 596h3v3h-3zM71 596h3v3h-3zM75 596h3v3h-3zM79 596h3v3h-3zM83 596h3v3h-3zM87 596h3v3h-3zM91 596h3v3h-3zM98 597h3v3h-3zM102 597h3v3h-3zM106 597h3v3h-3zM110 597h3v3h-3zM114 597h3v3h-3zM118 597h3v3h-3zM122 597h3v3h-3zM126 597h3v3h-3zM130 597h3v3h-3zM134 597h3v3h-3zM138 597h3v3h-3zM142 597h3v3h-3zM146 597h3v3h-3zM150 597h3v3h-3zM154 597h3v3h-3zM158 597h3v3h-3zM162 597h3v3h-3zM166 597h3v3h-3zM170 597h3v3h-3zM174 597h3v3h-3zM178 597h3v3h-3zM182 597h3v3h-3zM186 597h3v3h-3zM190 597h3v3h-3zM194 597h3v3h-3zM198 597h3v3h-3zM202 597h3v3h-3zM206 597h3v3h-3zM210 597h3v3h-3zM214 597h3v3h-3zM218 597h3v3h-3zM222 597h3v3h-3zM226 597h3v3h-3zM230 597h3v3h-3zM234 597h3v3h-3zM238 597h3v3h-3zM242 597h3v3h-3zM247 600h3v3h-3zM251 600h3v3h-3zM255 600h3v3h-3zM259 600h3v3h-3zM263 600h3v3h-3zM267 600h3v3h-3zM271 600h3v3h-3zM276 593h3v3h-3zM280 593h3v3h-3zM284 593h3v3h-3zM288 593h3v3h-3zM292 593h3v3h-3zM296 593h3v3h-3zM300 593h3v3h-3zM304 593h3v3h-3zM308 593h3v3h-3zM312 593h3v3h-3zM316 593h3v3h-3zM320 593h3v3h-3zM324 593h3v3h-3zM328 593h3v3h-3zM332 593h3v3h-3zM336 593h3v3h-3zM340 593h3v3h-3zM344 593h3v3h-3zM347 585h3v3h-3zM351 585h3v3h-3zM355 585h3v3h-3zM359 585h3v3h-3zM363 585h3v3h-3zM366 582h3v3h-3zM370 582h3v3h-3zM374 582h3v3h-3zM378 582h3v3h-3zM382 582h3v3h-3zM386 582h3v3h-3zM388 581h3v3h-3zM392 581h3v3h-3zM396 581h3v3h-3zM400 581h3v3h-3zM404 581h3v3h-3zM408 581h3v3h-3zM412 581h3v3h-3zM416 581h3v3h-3zM420 581h3v3h-3zM424 581h3v3h-3zM428 581h3v3h-3zM432 581h3v3h-3zM436 581h3v3h-3zM440 581h3v3h-3zM444 581h3v3h-3zM448 581h3v3h-3zM452 581h3v3h-3zM456 581h3v3h-3zM460 581h3v3h-3zM464 581h3v3h-3zM468 581h3v3h-3zM472 581h3v3h-3zM476 581h3v3h-3zM480 581h3v3h-3zM484 589h3v3h-3zM488 589h3v3h-3zM492 589h3v3h-3zM496 589h3v3h-3zM500 589h3v3h-3zM504 587h3v3h-3zM508 587h3v3h-3zM512 587h3v3h-3zM516 587h3v3h-3zM520 587h3v3h-3zM524 587h3v3h-3zM528 587h3v3h-3zM532 587h3v3h-3zM536 581h3v3h-3zM540 581h3v3h-3zM544 581h3v3h-3zM548 581h3v3h-3zM552 581h3v3h-3zM556 581h3v3h-3zM560 581h3v3h-3zM561 580h3v3h-3zM565 580h3v3h-3zM569 580h3v3h-3zM573 580h3v3h-3zM577 580h3v3h-3zM582 581h3v3h-3zM586 581h3v3h-3zM590 581h3v3h-3zM594 581h3v3h-3zM598 581h3v3h-3zM602 581h3v3h-3zM606 581h3v3h-3zM610 581h3v3h-3zM614 581h3v3h-3zM618 581h3v3h-3zM622 581h3v3h-3zM626 581h3v3h-3zM630 581h3v3h-3zM634 581h3v3h-3zM638 581h3v3h-3zM642 581h3v3h-3zM646 581h3v3h-3zM650 581h3v3h-3zM654 581h3v3h-3zM658 581h3v3h-3zM662 581h3v3h-3zM666 581h3v3h-3zM670 581h3v3h-3zM674 581h3v3h-3zM678 581h3v3h-3zM682 581h3v3h-3zM686 581h3v3h-3zM690 581h3v3h-3zM694 581h3v3h-3zM698 581h3v3h-3zM702 581h3v3h-3zM706 581h3v3h-3zM710 581h3v3h-3z" fill="#ff0000"/>
<path d="M4 603h3v3h-3zM27 599h3v3h-3zM31 599h3v3h-3zM35 599h3v3h-3zM39 599h3v3h-3zM43 599h3v3h-3zM47 599h3v3h-3zM51 603h3v3h-3zM152 612h3v3h-3zM156 612h3v3h-3zM160 612h3v3h-3zM164 612h3v3h-3zM168 612h3v3h-3zM172 612h3v3h-3zM176 612h3v3h-3zM180 612h3v3h-3zM184 612h3v3h-3zM188 612h3v3h-3zM192 612h3v3h-3zM196 612h3v3h-3zM200 612h3v3h-3zM204 612h3v3h-3zM208 612h3v3h-3zM212 612h3v3h-3zM216 612h3v3h-3zM220 612h3v3h-3zM224 612h3v3h-3zM228 612h3v3h-3zM232 612h3v3h-3zM236 612h3v3h-3zM240 612h3v3h-3zM244 612h3v3h-3zM248 612h3v3h-3zM252 612h3v3h-3zM256 612h3v3h-3zM260 612h3v3h-3zM264 612h3v3h-3zM268 612h3v3h-3zM272 612h3v3h-3zM276 612h3v3h-3zM280 612h3v3h-3zM284 612h3v3h-3zM288 612h3v3h-3zM292 612h3v3h-3zM296 612h3v3h-3zM300 612h3v3h-3zM304 612h3v3h-3zM308 612h3v3h-3zM312 612h3v3h-3zM316 612h3v3h-3zM320 612h3v3h-3zM324 612h3v3h-3zM328 612h3v3h-3zM332 612h3v3h-3zM336 612h3v3h-3zM340 612h3v3h-3zM344 612h3v3h-3zM348 612h3v3h-3zM352 612h3v3h-3zM356 612h3v3h-3zM360 612h3v3h-3zM364 612h3v3h-3zM368 612h3v3h-3zM372 612h3v3h-3zM376 612h3v3h-3zM380 612h3v3h-3zM384 612h3v3h-3zM388 612h3v3h-3zM392 612h3v3h-3zM396 612h3v3h-3zM397 593h3v3h-3zM401 593h3v3h-3zM405 593h3v3h-3zM409 593h3v3h-3zM413 593h3v3h-3zM417 593h3v3h-3zM421 593h3v3h-3zM425 593h3v3h-3zM429 593h3v3h-3zM433 593h3v3h-3zM437 593h3v3h-3zM441 593h3v3h-3zM445 593h3v3h-3zM449 593h3v3h-3zM453 593h3v3h-3zM457 593h3v3h-3zM461 593h3v3h-3zM465 593h3v3h-3zM469 593h3v3h-3zM473 593h3v3h-3zM477 593h3v3h-3zM481 593h3v3h-3zM485 593h3v3h-3zM489 593h3v3h-3zM493 593h3v3h-3zM497 593h3v3h-3zM501 593h3v3h-3zM505 593h3v3h-3zM509 593h3v3h-3zM513 593h3v3h-3zM517 593h3v3h-3zM521 593h3v3h-3zM525 593h3v3h-3zM529 593h3v3h-3zM533 593h3v3h-3zM537 593h3v3h-3zM541 593h3v3h-3zM545 593h3v3h-3zM549 593h3v3h-3zM553 593h3v3h-3zM557 593h3v3h-3zM561 593h3v3h-3zM565 593h3v3h-3zM569 593h3v3h-3zM573 593h3v3h-3zM577 593h3v3h-3zM581 593h3v3h-3zM585 593h3v3h-3zM589 593h3v3h-3zM593 593h3v3h-3zM597 593h3v3h-3zM601 593h3v3h-3zM605 593h3v3h-3zM609 593h3v3h-3zM613 593h3v3h-3zM617 593h3v3h-3zM621 593h3v3h-3zM650 594h3v3h-3zM654 594h3v3h-3zM658 594h3v3h-3zM662 594h3v3h-3zM666 594h3v3h-3zM670 594h3v3h-3zM674 594h3v3h-3zM678 594h3v3h-3zM682 594h3v3h-3zM686 594h3v3h-3zM690 594h3v3h-3zM694 594h3v3h-3zM698 594h3v3h-3zM702 594h3v3h-3zM706 594h3v3h-3zM710 594h3v3h-3zM55 602h3v3h-3zM59 602h3v3h-3zM63 602h3v3h-3zM67 602h3v3h-3zM71 602h3v3h-3zM75 602h3v3h-3zM79 602h3v3h-3zM83 602h3v3h-3zM87 602h3v3h-3zM91 602h3v3h-3zM95 602h3v3h-3zM99 602h3v3h-3zM103 602h3v3h-3zM107 602h3v3h-3zM111 602h3v3h-3zM115 602h3v3h-3zM119 602h3v3h-3zM123 602h3v3h-3zM127 602h3v3h-3zM131 602h3v3h-3zM135 602h3v3h-3zM139 602h3v3h-3zM143 602h3v3h-3zM147 602h3v3h-3z" fill="#009400"/>
<path d="M7 601h3v1h-3zM11 600h3v1h-3zM15 598h3v1h-3zM19 597h3v1h-3zM23 598h3v1h-3zM27 600h3v1h-3zM31 601h3v1h-3zM35 602h3v1h-3zM43 602h3v1h-3zM47 602h3v1h-3zM51 604h3v1h-3zM55 603h3v1h-3zM59 605h3v1h-3zM63 602h3v1h-3zM67 602h3v1h-3zM71 602h3v1h-3zM75 603h3v1h-3zM79 603h3v1h-3zM82 603h3v1h-3zM86 601h3v1h-3zM90 600h3v1h-3zM98 600h3v1h-3zM106 600h3v1h-3zM114 597h3v1h-3zM118 598h3v1h-3zM122 601h3v1h-3zM126 599h3v1h-3zM130 599h3v1h-3zM134 598h3v1h-3zM142 598h3v1h-3zM146 598h3v1h-3zM185 603h3v1h-3zM173 607h3v1h-3zM177 608h3v1h-3zM181 608h3v1h-3zM189 608h3v1h-3zM197 609h3v1h-3zM201 608h3v1h-3zM161 608h3v1h-3zM165 609h3v1h-3zM169 609h3v1h-3zM205 607h3v1h-3zM209 607h3v1h-3zM213 607h3v1h-3zM220 607h3v1h-3zM224 605h3v1h-3zM277 594h3v1h-3zM240 600h3v1h-3zM236 600h3v1h-3zM260 599h3v1h-3zM264 601h3v1h-3zM248 601h3v1h-3zM256 601h3v1h-3zM268 602h3v1h-3zM232 602h3v1h-3zM343 585h3v1h-3zM347 586h3v1h-3zM331 587h3v1h-3zM339 587h3v1h-3zM335 588h3v1h-3zM327 591h3v1h-3zM323 591h3v1h-3zM303 592h3v1h-3zM315 592h3v1h-3zM319 592h3v1h-3zM295 593h3v1h-3zM299 593h3v1h-3zM288 593h3v1h-3zM284 594h3v1h-3zM291 594h3v1h-3zM280 595h3v1h-3zM220 607h3v1h-3zM370 580h3v1h-3zM366 583h3v1h-3zM378 583h3v1h-3zM382 583h3v1h-3zM390 583h3v1h-3zM351 585h3v1h-3zM355 585h3v1h-3zM359 585h3v1h-3zM501 583h3v1h-3zM497 588h3v1h-3zM504 588h3v1h-3zM508 588h3v1h-3zM512 588h3v1h-3zM418 591h3v1h-3zM441 592h3v1h-3zM406 593h3v1h-3zM422 593h3v1h-3zM426 593h3v1h-3zM430 593h3v1h-3zM434 593h3v1h-3zM394 594h3v1h-3zM398 594h3v1h-3zM402 595h3v1h-3zM450 593h3v1h-3zM454 593h3v1h-3zM458 593h3v1h-3zM462 593h3v1h-3zM465 592h3v1h-3zM469 592h3v1h-3zM473 592h3v1h-3zM477 590h3v1h-3zM481 589h3v1h-3zM485 590h3v1h-3zM493 589h3v1h-3zM520 590h3v1h-3zM560 584h3v1h-3zM528 582h3v1h-3zM532 582h3v1h-3zM536 582h3v1h-3zM540 582h3v1h-3zM545 582h3v1h-3zM549 582h3v1h-3zM553 582h3v1h-3zM557 582h3v1h-3zM561 582h3v1h-3zM576 582h3v1h-3zM584 582h3v1h-3zM588 582h3v1h-3zM592 582h3v1h-3zM596 582h3v1h-3zM600 582h3v1h-3zM604 582h3v1h-3zM608 582h3v1h-3zM612 582h3v1h-3zM624 582h3v1h-3zM628 582h3v1h-3zM632 582h3v1h-3zM640 582h3v1h-3zM644 582h3v1h-3zM650 595h3v1h-3zM682 595h3v1h-3zM702 595h3v1h-3zM710 596h3v1h-3zM674 596h3v1h-3zM678 596h3v1h-3zM686 596h3v1h-3zM690 596h3v1h-3zM698 596h3v1h-3zM654 597h3v1h-3zM658 597h3v1h-3zM662 597h3v1h-3zM666 597h3v1h-3zM670 597h3v1h-3zM646 599h3v1h-3zM149 614h3v1h-3zM153 613h3v1h-3zM157 612h3v1h-3zM35 600h3v1h-3zM39 600h3v1h-3zM94 595h3v7h-3zM102 595h3v2h-3zM110 596h3v2h-3zM138 595h3v4h-3zM193 605h3v5h-3zM244 597h3v3h-3zM252 597h3v2h-3zM228 600h3v5h-3zM311 588h3v2h-3zM362 580h3v2h-3zM374 580h3v2h-3zM386 580h3v4h-3zM524 584h3v3h-3zM410 590h3v2h-3zM564 580h3v3h-3zM568 582h3v1h-3zM572 582h3v1h-3zM579 579h3v4h-3zM615 579h3v4h-3zM619 582h3v1h-3zM516 584h3v9h-3zM217 603h3v2h-3z" fill="#000"/>
<rect x="4" y="602" width="3" height="3" fill="#fff"/>
<path d="M4 602h3v1h-3zM4 604h3v1h-3zM4 602h1v3h-1zM6 602h1v3h-1z" fill="#000"/>
<rect x="272" y="591" width="3" height="3" fill="#fff"/>
<path d="M272 591h3v1h-3zM272 593h3v1h-3zM272 591h1v3h-1zM274 591h1v3h-1zM273 587h1v4h-1z" fill="#000"/>
<rect x="307" y="593" width="3" height="4" fill="#fff"/>
<path d="M307 593h3v1h-3zM307 596h3v1h-3zM307 593h1v4h-1zM309 593h1v4h-1z" fill="#000"/>
<rect x="489" y="589" width="3" height="4" fill="#fff"/>
<path d="M489 589h3v1h-3zM489 592h3v1h-3zM489 589h1v4h-1zM491 589h1v4h-1z" fill="#000"/>
<rect x="635" y="582" width="3" height="2" fill="#fff"/>
<path d="M635 582h3v1h-3zM635 583h3v1h-3zM635 582h1v2h-1zM637 582h1v2h-1z" fill="#000"/>
<rect x="694" y="583" width="3" height="14" fill="#fff"/>
<path d="M694 583h3v1h-3zM694 596h3v1h-3zM694 583h1v14h-1zM696 583h1v14h-1z" fill="#000"/>
<rect x="706" y="583" width="3" height="14" fill="#fff"/>
<path d="M706 583h3v1h-3zM706 596h3v1h-3zM706 583h1v14h-1zM708 583h1v14h-1z" fill="#000"/>
<path d="M245 600h1v1h-1zM363 582h1v1h-1zM620 583h1v3h-1zM218 600h1v3h-1zM218 605h1v1h-1z" fill="#000"/>
<polyline points="64.4,680.5 66.6,687.1 68.6,694.2 72.6,694.2 74.8,688.6 77.7,678.3 79.9,668.7 82.9,659.8 85.1,654.7 88.1,647.3 91.8,637.7 95.5,628.1 99.1,619.2 102.1,610.3 104.3,600.0 107.0,591.2 109.7,582.6 111.8,575.1 113.9,566.5 116.1,558.4 118.2,550.9 120.9,545.0 123.6,542.3 126.3,542.7 128.4,544.5 131.1,549.3 134.3,555.8 138.6,561.7 142.9,564.1 147.2,564.5 149.4,569.7 151.5,578.3 153.6,590.1 154.7,596.5 155.8,608.0 157.0,614.8 159.2,634.0 161.4,651.7 163.6,666.5 166.6,684.2 169.5,696.0 171.8,699.7 174.3,701.6 176.9,698.2 181.4,690.1 185.8,678.3 190.2,663.5 194.7,653.9 197.6,651.0 198.8,650.2 201.4,651.5 205.7,655.8 210.6,658.5 214.8,658.5 218.1,653.6 220.2,646.1 222.4,638.6 225.0,631.1 227.2,624.7 229.3,616.1 230.9,609.7 232.0,604.3 232.8,600.0 233.8,597.7 236.1,581.5 238.5,570.0 239.8,559.0 242.6,542.0 245.5,527.0 248.3,513.8 251.1,507.3 253.9,503.5 256.7,503.5 261.4,506.3 265.2,511.0 270.8,521.4 276.5,532.6 282.1,539.2 287.7,543.9 291.5,546.2 296.2,546.4 300.0,545.4 304.1,542.6 312.6,538.8 319.1,532.8 329.5,527.5 335.1,517.7 339.8,500.8 344.5,483.9 348.3,470.8 353.0,455.7 357.7,442.6 363.3,434.7 367.1,434.7 374.6,438.4 382.1,446.3 386.8,454.8 391.5,467.0 395.3,487.7 398.1,510.2 400.0,532.8 402.4,560.0 403.0,572.3 404.6,595.4 406.8,618.1 409.5,645.3 412.2,668.8 415.8,692.4 419.5,701.4 422.5,703.6 426.7,700.5 431.2,699.3 436.7,699.6 442.1,701.4 449.3,700.0 457.5,697.8 467.5,695.1 471.1,687.0 474.7,668.8 478.3,643.5 481.0,618.1 483.1,595.0 484.7,584.7 488.2,556.5 491.7,523.7 495.3,488.4 498.8,465.0 502.3,450.8 505.4,445.0 508.2,448.5 510.5,455.5 514.1,476.7 517.6,504.9 521.1,535.4 523.8,560.0 526.2,585.8 528.9,592.7 530.8,590.4 533.8,578.0 535.2,566.0 538.7,535.4 542.3,507.2 545.8,479.0 549.3,457.9 554.0,441.4 557.5,433.2 561.0,430.9 564.6,433.2 569.3,443.8 574.0,455.5 578.7,467.3 584.5,477.9 590.4,487.0 597.5,496.9 601.3,504.4 604.1,513.8 606.9,527.0 609.7,542.0 612.6,558.9 615.4,574.0 617.3,585.3 620.1,594.7 623.8,604.1 627.6,607.4 631.4,604.1 638.9,596.5 644.5,588.6 647.3,592.8 650.2,602.2 653.3,617.7 656.3,637.5 661.0,658.6 665.7,684.4 670.4,705.5 675.1,719.6 678.0,723.5 681.0,725.0 685.7,724.3 690.4,720.8 693.9,712.6 698.6,691.5 703.3,668.0 708.0,646.9 711.5,631.6 712.0,630.0" fill="none" stroke="#0000ff" stroke-width="1" stroke-linejoin="round"/>
<path d="M126 577h3v6h-3zM123 583h9v1h-9zM124 584h7v2h-7zM125 586h5v2h-5zM126 588h3v2h-3zM127 590h1v2h-1z" fill="#ff0000"/>
<path d="M260 576h3v6h-3zM257 582h9v1h-9zM258 583h7v2h-7zM259 585h5v2h-5zM260 587h3v2h-3zM261 589h1v2h-1z" fill="#ff0000"/>
<path d="M366 561h3v6h-3zM363 567h9v1h-9zM364 568h7v2h-7zM365 570h5v2h-5zM366 572h3v2h-3zM367 574h1v2h-1z" fill="#ff0000"/>
<path d="M508 566h3v6h-3zM505 572h9v1h-9zM506 573h7v2h-7zM507 575h5v2h-5zM508 577h3v2h-3zM509 579h1v2h-1z" fill="#ff0000"/>
<path d="M564 558h3v6h-3zM561 564h9v1h-9zM562 565h7v2h-7zM563 567h5v2h-5zM564 569h3v2h-3zM565 571h1v2h-1z" fill="#ff0000"/>
<path d="M646 576h3v6h-3zM643 582h9v1h-9zM644 583h7v2h-7zM645 585h5v2h-5zM646 587h3v2h-3zM647 589h1v2h-1z" fill="#ff0000"/>
<path d="M72 608h1v2h-1zM71 610h3v2h-3zM70 612h5v2h-5zM69 614h7v2h-7zM68 616h9v1h-9zM71 617h3v6h-3z" fill="#009400"/>
<path d="M427 600h1v2h-1zM426 602h3v2h-3zM425 604h5v2h-5zM424 606h7v2h-7zM423 608h9v1h-9zM426 609h3v6h-3z" fill="#009400"/>
<path d="M446 600h1v2h-1zM445 602h3v2h-3zM444 604h5v2h-5zM443 606h7v2h-7zM442 608h9v1h-9zM445 609h3v6h-3z" fill="#009400"/>
<path d="M632 589h1v2h-1zM631 591h3v2h-3zM630 593h5v2h-5zM629 595h7v2h-7zM628 597h9v1h-9zM631 598h3v6h-3z" fill="#009400"/>
<path d="M683 602h1v2h-1zM682 604h3v2h-3zM681 606h5v2h-5zM680 608h7v2h-7zM679 610h9v1h-9zM682 611h3v6h-3z" fill="#009400"/>
<path d="M178 614h1v2h-1zM177 616h3v2h-3zM176 618h5v2h-5zM175 620h7v2h-7zM174 622h9v1h-9zM177 623h3v6h-3z" fill="#009400"/>
<path d="M214 614h1v2h-1zM213 616h3v2h-3zM212 618h5v2h-5zM211 620h7v2h-7zM210 622h9v1h-9zM213 623h3v6h-3z" fill="#009400"/>
<text x="10" y="421.8" font-size="12" xml:space="preserve" textLength="444" lengthAdjust="spacing"><tspan fill="#000">SJLD - Daily 2026-01-09 Open 25.285,Hi 25.285,Lo 25.285, Close 25.285 (-0.9%)</tspan></text>
<text x="10" y="435.8" font-size="12" xml:space="preserve" textLength="280" lengthAdjust="spacing"><tspan fill="#000">Vol 100 </tspan><tspan fill="#f00">Top</tspan><tspan fill="#000"> = 25.54, </tspan><tspan fill="#009400">Bottom</tspan><tspan fill="#000"> = 25.29, </tspan><tspan fill="#00f">Trend</tspan><tspan fill="#000"> = 24.66</tspan></text>
<rect x="107" y="732" width="1" height="7" fill="#000"/>
<text x="110.8" y="743" fill="#000" font-size="12" text-anchor="start">Jun</text>
<rect x="186" y="732" width="1" height="7" fill="#000"/>
<text x="189.8" y="743" fill="#000" font-size="12" text-anchor="start">Jul</text>
<rect x="273" y="732" width="1" height="7" fill="#000"/>
<text x="276.8" y="743" fill="#000" font-size="12" text-anchor="start">Aug</text>
<rect x="356" y="732" width="1" height="7" fill="#000"/>
<text x="359.8" y="743" fill="#000" font-size="12" text-anchor="start">Sep</text>
<rect x="438" y="732" width="1" height="7" fill="#000"/>
<text x="441.8" y="743" fill="#000" font-size="12" text-anchor="start">Oct</text>
<rect x="529" y="732" width="1" height="7" fill="#000"/>
<text x="532.8" y="743" fill="#000" font-size="12" text-anchor="start">Nov</text>
<rect x="604" y="732" width="1" height="7" fill="#000"/>
<text x="607.8" y="743" fill="#000" font-size="12" text-anchor="start">Dec</text>
<rect x="691" y="732" width="1" height="7" fill="#000"/>
<text x="694.8" y="743" fill="#000" font-size="12" text-anchor="start">2026</text>
<text x="8.5" y="743" fill="#000" font-size="12" text-anchor="start">Apr</text>
<text x="775.6" y="18.6" fill="#000" font-size="12" text-anchor="end">25.6</text>
<text x="775.6" y="61.6" fill="#000" font-size="12" text-anchor="end">25.5</text>
<text x="775.6" y="104.6" fill="#000" font-size="12" text-anchor="end">25.4</text>
<text x="775.6" y="148.6" fill="#000" font-size="12" text-anchor="end">25.3</text>
<text x="775.6" y="191.6" fill="#000" font-size="12" text-anchor="end">25.2</text>
<text x="775.6" y="235.6" fill="#000" font-size="12" text-anchor="end">25.1</text>
<text x="775.6" y="278.6" fill="#000" font-size="12" text-anchor="end">25.0</text>
<text x="775.6" y="325.6" fill="#000" font-size="12" text-anchor="end">100</text>
<text x="775.6" y="343.6" fill="#000" font-size="12" text-anchor="end">80</text>
<text x="775.6" y="361.6" fill="#000" font-size="12" text-anchor="end">60</text>
<text x="775.6" y="379.6" fill="#000" font-size="12" text-anchor="end">40</text>
<text x="775.6" y="396.6" fill="#000" font-size="12" text-anchor="end">20</text>
<text x="775.6" y="420.6" fill="#000" font-size="12" text-anchor="end">28.5</text>
<text x="775.6" y="447.6" fill="#000" font-size="12" text-anchor="end">28.0</text>
<text x="775.6" y="475.6" fill="#000" font-size="12" text-anchor="end">27.5</text>
<text x="775.6" y="503.6" fill="#000" font-size="12" text-anchor="end">27.0</text>
<text x="775.6" y="531.6" fill="#000" font-size="12" text-anchor="end">26.5</text>
<text x="775.6" y="559.6" fill="#000" font-size="12" text-anchor="end">26.0</text>
<text x="775.6" y="587.6" fill="#000" font-size="12" text-anchor="end">25.5</text>
<text x="775.6" y="614.6" fill="#000" font-size="12" text-anchor="end">25.0</text>
<text x="775.6" y="642.6" fill="#000" font-size="12" text-anchor="end">24.5</text>
<text x="775.6" y="670.6" fill="#000" font-size="12" text-anchor="end">24.0</text>
<text x="775.6" y="698.6" fill="#000" font-size="12" text-anchor="end">23.5</text>
<text x="775.6" y="726.6" fill="#000" font-size="12" text-anchor="end">23.0</text></svg></body></html>
